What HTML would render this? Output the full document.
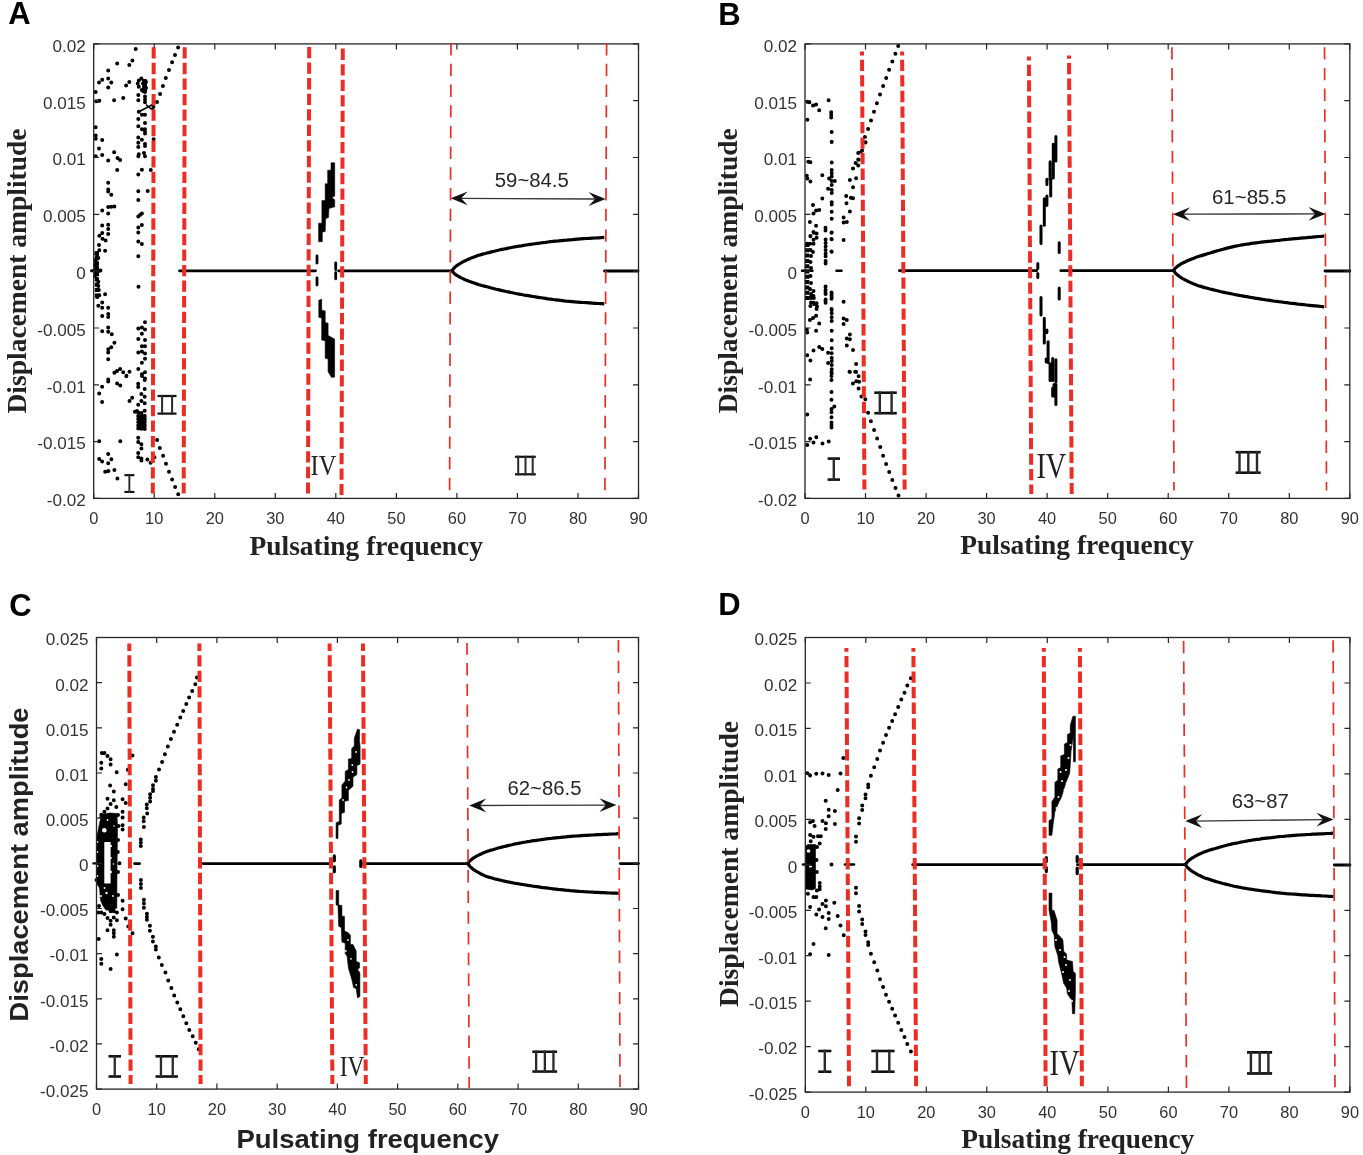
<!DOCTYPE html>
<html><head><meta charset="utf-8"><style>
html,body{margin:0;padding:0;background:#fff;}
svg{display:block;filter:blur(0.45px);}
.ax{stroke:#262626;stroke-width:1.2;fill:none;}
.box{stroke:#262626;stroke-width:1.3;fill:none;}
.dt{fill:#000;}
.plab{font-family:"Liberation Sans",sans-serif;font-weight:bold;font-size:31px;fill:#000;}
.xt{font-family:"Liberation Sans",sans-serif;font-size:16.4px;fill:#333;text-anchor:middle;}
.yt{font-family:"Liberation Sans",sans-serif;font-size:17.1px;fill:#333;text-anchor:end;}
.ann{font-family:"Liberation Sans",sans-serif;fill:#262626;}
.iv{font-family:"Liberation Serif",serif;fill:#222;}
.lbs{font-family:"Liberation Serif",serif;font-weight:bold;fill:#222;}
.lbn{font-family:"Liberation Sans",sans-serif;font-weight:bold;fill:#222;}
</style></head><body>
<svg width="1363" height="1155" viewBox="0 0 1363 1155">
<path class="dt" d="M133.7 49.1a2.0 2.0 0 1 0 4 0a2.0 2.0 0 1 0 -4 0M115.2 63.4a2.0 2.0 0 1 0 4 0a2.0 2.0 0 1 0 -4 0M130.4 60.5a2.0 2.0 0 1 0 4 0a2.0 2.0 0 1 0 -4 0M127.3 64.9a2.0 2.0 0 1 0 4 0a2.0 2.0 0 1 0 -4 0M106.2 70.4a2.0 2.0 0 1 0 4 0a2.0 2.0 0 1 0 -4 0M100.2 79.8a2.0 2.0 0 1 0 4 0a2.0 2.0 0 1 0 -4 0M97 82.6a2.0 2.0 0 1 0 4 0a2.0 2.0 0 1 0 -4 0M106.2 78.4a2.0 2.0 0 1 0 4 0a2.0 2.0 0 1 0 -4 0M109.3 82.6a2.0 2.0 0 1 0 4 0a2.0 2.0 0 1 0 -4 0M106.2 87.6a2.0 2.0 0 1 0 4 0a2.0 2.0 0 1 0 -4 0M127.3 82.1a2.0 2.0 0 1 0 4 0a2.0 2.0 0 1 0 -4 0M124.1 85.4a2.0 2.0 0 1 0 4 0a2.0 2.0 0 1 0 -4 0M93.7 91.9a2.0 2.0 0 1 0 4 0a2.0 2.0 0 1 0 -4 0M94.2 101.3a2.0 2.0 0 1 0 4 0a2.0 2.0 0 1 0 -4 0M97.3 100.8a2.0 2.0 0 1 0 4 0a2.0 2.0 0 1 0 -4 0M112.1 100.2a2.0 2.0 0 1 0 4 0a2.0 2.0 0 1 0 -4 0M121.2 98a2.0 2.0 0 1 0 4 0a2.0 2.0 0 1 0 -4 0M139.4 78.4a2.0 2.0 0 1 0 4 0a2.0 2.0 0 1 0 -4 0M136.8 80.5a2.0 2.0 0 1 0 4 0a2.0 2.0 0 1 0 -4 0M136.8 86.7a2.0 2.0 0 1 0 4 0a2.0 2.0 0 1 0 -4 0M141 83.6a2.0 2.0 0 1 0 4 0a2.0 2.0 0 1 0 -4 0M143 85.7a2.0 2.0 0 1 0 4 0a2.0 2.0 0 1 0 -4 0M143 89.9a2.0 2.0 0 1 0 4 0a2.0 2.0 0 1 0 -4 0M139.9 89.9a2.0 2.0 0 1 0 4 0a2.0 2.0 0 1 0 -4 0M135.8 83.6a2.0 2.0 0 1 0 4 0a2.0 2.0 0 1 0 -4 0M142 81a2.0 2.0 0 1 0 4 0a2.0 2.0 0 1 0 -4 0M144 82a2.0 2.0 0 1 0 4 0a2.0 2.0 0 1 0 -4 0M142 87a2.0 2.0 0 1 0 4 0a2.0 2.0 0 1 0 -4 0M144 88a2.0 2.0 0 1 0 4 0a2.0 2.0 0 1 0 -4 0M141 91a2.0 2.0 0 1 0 4 0a2.0 2.0 0 1 0 -4 0M143 92a2.0 2.0 0 1 0 4 0a2.0 2.0 0 1 0 -4 0M136.3 95.1a2.0 2.0 0 1 0 4 0a2.0 2.0 0 1 0 -4 0M136.3 100.2a2.0 2.0 0 1 0 4 0a2.0 2.0 0 1 0 -4 0M143 96.6a2.0 2.0 0 1 0 4 0a2.0 2.0 0 1 0 -4 0M143 102.3a2.0 2.0 0 1 0 4 0a2.0 2.0 0 1 0 -4 0M143 99.5a2.0 2.0 0 1 0 4 0a2.0 2.0 0 1 0 -4 0M136.8 111.7a2.0 2.0 0 1 0 4 0a2.0 2.0 0 1 0 -4 0M151.4 107a2.0 2.0 0 1 0 4 0a2.0 2.0 0 1 0 -4 0M155 102a2.0 2.0 0 1 0 4 0a2.0 2.0 0 1 0 -4 0M139.9 114.8a2.0 2.0 0 1 0 4 0a2.0 2.0 0 1 0 -4 0M136.3 119a2.0 2.0 0 1 0 4 0a2.0 2.0 0 1 0 -4 0M143 114.8a2.0 2.0 0 1 0 4 0a2.0 2.0 0 1 0 -4 0M143 123.1a2.0 2.0 0 1 0 4 0a2.0 2.0 0 1 0 -4 0M136.3 126.2a2.0 2.0 0 1 0 4 0a2.0 2.0 0 1 0 -4 0M139.9 129.3a2.0 2.0 0 1 0 4 0a2.0 2.0 0 1 0 -4 0M143 129.3a2.0 2.0 0 1 0 4 0a2.0 2.0 0 1 0 -4 0M143 133.5a2.0 2.0 0 1 0 4 0a2.0 2.0 0 1 0 -4 0M143 131.5a2.0 2.0 0 1 0 4 0a2.0 2.0 0 1 0 -4 0M136.3 137.6a2.0 2.0 0 1 0 4 0a2.0 2.0 0 1 0 -4 0M139.9 139.7a2.0 2.0 0 1 0 4 0a2.0 2.0 0 1 0 -4 0M136.3 142.8a2.0 2.0 0 1 0 4 0a2.0 2.0 0 1 0 -4 0M136.3 147a2.0 2.0 0 1 0 4 0a2.0 2.0 0 1 0 -4 0M143 143.9a2.0 2.0 0 1 0 4 0a2.0 2.0 0 1 0 -4 0M143 146a2.0 2.0 0 1 0 4 0a2.0 2.0 0 1 0 -4 0M151.6 139.2a2.0 2.0 0 1 0 4 0a2.0 2.0 0 1 0 -4 0M93.7 127.3a2.0 2.0 0 1 0 4 0a2.0 2.0 0 1 0 -4 0M93.7 135.6a2.0 2.0 0 1 0 4 0a2.0 2.0 0 1 0 -4 0M93.7 138.7a2.0 2.0 0 1 0 4 0a2.0 2.0 0 1 0 -4 0M100.2 139.9a2.0 2.0 0 1 0 4 0a2.0 2.0 0 1 0 -4 0M97 148.5a2.0 2.0 0 1 0 4 0a2.0 2.0 0 1 0 -4 0M112.1 152.2a2.0 2.0 0 1 0 4 0a2.0 2.0 0 1 0 -4 0M100.2 155.1a2.0 2.0 0 1 0 4 0a2.0 2.0 0 1 0 -4 0M93.7 156.3a2.0 2.0 0 1 0 4 0a2.0 2.0 0 1 0 -4 0M176.1 47.5a2.0 2.0 0 1 0 4 0a2.0 2.0 0 1 0 -4 0M173 54.9a2.0 2.0 0 1 0 4 0a2.0 2.0 0 1 0 -4 0M170.1 62.3a2.0 2.0 0 1 0 4 0a2.0 2.0 0 1 0 -4 0M167 70.1a2.0 2.0 0 1 0 4 0a2.0 2.0 0 1 0 -4 0M163.8 78.1a2.0 2.0 0 1 0 4 0a2.0 2.0 0 1 0 -4 0M160.9 85.9a2.0 2.0 0 1 0 4 0a2.0 2.0 0 1 0 -4 0M158.1 94a2.0 2.0 0 1 0 4 0a2.0 2.0 0 1 0 -4 0M100.2 154.9a2.0 2.0 0 1 0 4 0a2.0 2.0 0 1 0 -4 0M112.2 152.3a2.0 2.0 0 1 0 4 0a2.0 2.0 0 1 0 -4 0M106.2 160.4a2.0 2.0 0 1 0 4 0a2.0 2.0 0 1 0 -4 0M115.5 158.1a2.0 2.0 0 1 0 4 0a2.0 2.0 0 1 0 -4 0M118.1 159.9a2.0 2.0 0 1 0 4 0a2.0 2.0 0 1 0 -4 0M115.2 170a2.0 2.0 0 1 0 4 0a2.0 2.0 0 1 0 -4 0M136.3 156.2a2.0 2.0 0 1 0 4 0a2.0 2.0 0 1 0 -4 0M136.8 154.2a2.0 2.0 0 1 0 4 0a2.0 2.0 0 1 0 -4 0M142 153.1a2.0 2.0 0 1 0 4 0a2.0 2.0 0 1 0 -4 0M143 156.2a2.0 2.0 0 1 0 4 0a2.0 2.0 0 1 0 -4 0M139.9 169.7a2.0 2.0 0 1 0 4 0a2.0 2.0 0 1 0 -4 0M136.3 174.4a2.0 2.0 0 1 0 4 0a2.0 2.0 0 1 0 -4 0M148.8 170a2.0 2.0 0 1 0 4 0a2.0 2.0 0 1 0 -4 0M106.2 182.7a2.0 2.0 0 1 0 4 0a2.0 2.0 0 1 0 -4 0M106.2 189.5a2.0 2.0 0 1 0 4 0a2.0 2.0 0 1 0 -4 0M106.2 191.5a2.0 2.0 0 1 0 4 0a2.0 2.0 0 1 0 -4 0M109.3 194.7a2.0 2.0 0 1 0 4 0a2.0 2.0 0 1 0 -4 0M136.3 191.2a2.0 2.0 0 1 0 4 0a2.0 2.0 0 1 0 -4 0M145.7 191a2.0 2.0 0 1 0 4 0a2.0 2.0 0 1 0 -4 0M136.3 199.9a2.0 2.0 0 1 0 4 0a2.0 2.0 0 1 0 -4 0M106.2 207.1a2.0 2.0 0 1 0 4 0a2.0 2.0 0 1 0 -4 0M109.3 206.8a2.0 2.0 0 1 0 4 0a2.0 2.0 0 1 0 -4 0M112.4 206.6a2.0 2.0 0 1 0 4 0a2.0 2.0 0 1 0 -4 0M100.2 210.5a2.0 2.0 0 1 0 4 0a2.0 2.0 0 1 0 -4 0M106.2 213.4a2.0 2.0 0 1 0 4 0a2.0 2.0 0 1 0 -4 0M139.9 213.4a2.0 2.0 0 1 0 4 0a2.0 2.0 0 1 0 -4 0M136.3 216.5a2.0 2.0 0 1 0 4 0a2.0 2.0 0 1 0 -4 0M138 215a2.0 2.0 0 1 0 4 0a2.0 2.0 0 1 0 -4 0M100.2 225.6a2.0 2.0 0 1 0 4 0a2.0 2.0 0 1 0 -4 0M106.2 224.8a2.0 2.0 0 1 0 4 0a2.0 2.0 0 1 0 -4 0M106.2 228.9a2.0 2.0 0 1 0 4 0a2.0 2.0 0 1 0 -4 0M139.9 225a2.0 2.0 0 1 0 4 0a2.0 2.0 0 1 0 -4 0M136.3 227.4a2.0 2.0 0 1 0 4 0a2.0 2.0 0 1 0 -4 0M100.2 233.1a2.0 2.0 0 1 0 4 0a2.0 2.0 0 1 0 -4 0M97.3 235.7a2.0 2.0 0 1 0 4 0a2.0 2.0 0 1 0 -4 0M106.2 233.9a2.0 2.0 0 1 0 4 0a2.0 2.0 0 1 0 -4 0M100.5 238.8a2.0 2.0 0 1 0 4 0a2.0 2.0 0 1 0 -4 0M103.6 240.4a2.0 2.0 0 1 0 4 0a2.0 2.0 0 1 0 -4 0M136.3 232.6a2.0 2.0 0 1 0 4 0a2.0 2.0 0 1 0 -4 0M136.3 241.4a2.0 2.0 0 1 0 4 0a2.0 2.0 0 1 0 -4 0M139.9 244a2.0 2.0 0 1 0 4 0a2.0 2.0 0 1 0 -4 0M97 245a2.0 2.0 0 1 0 4 0a2.0 2.0 0 1 0 -4 0M103.1 250.8a2.0 2.0 0 1 0 4 0a2.0 2.0 0 1 0 -4 0M97.3 250.2a2.0 2.0 0 1 0 4 0a2.0 2.0 0 1 0 -4 0M94.2 253.9a2.0 2.0 0 1 0 4 0a2.0 2.0 0 1 0 -4 0M96.3 258a2.0 2.0 0 1 0 4 0a2.0 2.0 0 1 0 -4 0M93.2 260.1a2.0 2.0 0 1 0 4 0a2.0 2.0 0 1 0 -4 0M95 256a2.0 2.0 0 1 0 4 0a2.0 2.0 0 1 0 -4 0M94 262a2.0 2.0 0 1 0 4 0a2.0 2.0 0 1 0 -4 0M93 265a2.0 2.0 0 1 0 4 0a2.0 2.0 0 1 0 -4 0M95 267a2.0 2.0 0 1 0 4 0a2.0 2.0 0 1 0 -4 0M136.3 256.2a2.0 2.0 0 1 0 4 0a2.0 2.0 0 1 0 -4 0M92.5 270.5a2.0 2.0 0 1 0 4 0a2.0 2.0 0 1 0 -4 0M95.5 270.5a2.0 2.0 0 1 0 4 0a2.0 2.0 0 1 0 -4 0M98.5 270.5a2.0 2.0 0 1 0 4 0a2.0 2.0 0 1 0 -4 0M94 273a2.0 2.0 0 1 0 4 0a2.0 2.0 0 1 0 -4 0M94 268a2.0 2.0 0 1 0 4 0a2.0 2.0 0 1 0 -4 0M93 276a2.0 2.0 0 1 0 4 0a2.0 2.0 0 1 0 -4 0M95 279a2.0 2.0 0 1 0 4 0a2.0 2.0 0 1 0 -4 0M96.3 281.8a2.0 2.0 0 1 0 4 0a2.0 2.0 0 1 0 -4 0M96.3 286a2.0 2.0 0 1 0 4 0a2.0 2.0 0 1 0 -4 0M96.8 290.1a2.0 2.0 0 1 0 4 0a2.0 2.0 0 1 0 -4 0M103.1 294.3a2.0 2.0 0 1 0 4 0a2.0 2.0 0 1 0 -4 0M95.3 296.9a2.0 2.0 0 1 0 4 0a2.0 2.0 0 1 0 -4 0M97.3 295.3a2.0 2.0 0 1 0 4 0a2.0 2.0 0 1 0 -4 0M100.2 302.6a2.0 2.0 0 1 0 4 0a2.0 2.0 0 1 0 -4 0M96.3 305.7a2.0 2.0 0 1 0 4 0a2.0 2.0 0 1 0 -4 0M100.2 307.8a2.0 2.0 0 1 0 4 0a2.0 2.0 0 1 0 -4 0M106.2 307.8a2.0 2.0 0 1 0 4 0a2.0 2.0 0 1 0 -4 0M106.2 314a2.0 2.0 0 1 0 4 0a2.0 2.0 0 1 0 -4 0M106.2 317.1a2.0 2.0 0 1 0 4 0a2.0 2.0 0 1 0 -4 0M100.2 316.1a2.0 2.0 0 1 0 4 0a2.0 2.0 0 1 0 -4 0M106.2 327.5a2.0 2.0 0 1 0 4 0a2.0 2.0 0 1 0 -4 0M106.2 331.7a2.0 2.0 0 1 0 4 0a2.0 2.0 0 1 0 -4 0M100.2 331.2a2.0 2.0 0 1 0 4 0a2.0 2.0 0 1 0 -4 0M109.8 334.3a2.0 2.0 0 1 0 4 0a2.0 2.0 0 1 0 -4 0M112.4 342.8a2.0 2.0 0 1 0 4 0a2.0 2.0 0 1 0 -4 0M109.3 347.3a2.0 2.0 0 1 0 4 0a2.0 2.0 0 1 0 -4 0M106.2 349.3a2.0 2.0 0 1 0 4 0a2.0 2.0 0 1 0 -4 0M106.2 352.4a2.0 2.0 0 1 0 4 0a2.0 2.0 0 1 0 -4 0M106.2 359.2a2.0 2.0 0 1 0 4 0a2.0 2.0 0 1 0 -4 0M112.4 372.7a2.0 2.0 0 1 0 4 0a2.0 2.0 0 1 0 -4 0M115 371a2.0 2.0 0 1 0 4 0a2.0 2.0 0 1 0 -4 0M118.1 369.1a2.0 2.0 0 1 0 4 0a2.0 2.0 0 1 0 -4 0M121.2 372.2a2.0 2.0 0 1 0 4 0a2.0 2.0 0 1 0 -4 0M124.4 375.8a2.0 2.0 0 1 0 4 0a2.0 2.0 0 1 0 -4 0M127.5 371.7a2.0 2.0 0 1 0 4 0a2.0 2.0 0 1 0 -4 0M106.2 379.5a2.0 2.0 0 1 0 4 0a2.0 2.0 0 1 0 -4 0M136.5 286.8a2.0 2.0 0 1 0 4 0a2.0 2.0 0 1 0 -4 0M143 322.3a2.0 2.0 0 1 0 4 0a2.0 2.0 0 1 0 -4 0M136.3 328.6a2.0 2.0 0 1 0 4 0a2.0 2.0 0 1 0 -4 0M139.9 327.5a2.0 2.0 0 1 0 4 0a2.0 2.0 0 1 0 -4 0M143 329.6a2.0 2.0 0 1 0 4 0a2.0 2.0 0 1 0 -4 0M136.3 339a2.0 2.0 0 1 0 4 0a2.0 2.0 0 1 0 -4 0M139.9 333.8a2.0 2.0 0 1 0 4 0a2.0 2.0 0 1 0 -4 0M143 340a2.0 2.0 0 1 0 4 0a2.0 2.0 0 1 0 -4 0M143 346.2a2.0 2.0 0 1 0 4 0a2.0 2.0 0 1 0 -4 0M139.9 346.2a2.0 2.0 0 1 0 4 0a2.0 2.0 0 1 0 -4 0M136.3 352.4a2.0 2.0 0 1 0 4 0a2.0 2.0 0 1 0 -4 0M139.9 351.4a2.0 2.0 0 1 0 4 0a2.0 2.0 0 1 0 -4 0M143 353.5a2.0 2.0 0 1 0 4 0a2.0 2.0 0 1 0 -4 0M139.9 362.8a2.0 2.0 0 1 0 4 0a2.0 2.0 0 1 0 -4 0M143 358.7a2.0 2.0 0 1 0 4 0a2.0 2.0 0 1 0 -4 0M136.3 369.1a2.0 2.0 0 1 0 4 0a2.0 2.0 0 1 0 -4 0M139.9 374.3a2.0 2.0 0 1 0 4 0a2.0 2.0 0 1 0 -4 0M143 372.2a2.0 2.0 0 1 0 4 0a2.0 2.0 0 1 0 -4 0M143 378.4a2.0 2.0 0 1 0 4 0a2.0 2.0 0 1 0 -4 0M140 376a2.0 2.0 0 1 0 4 0a2.0 2.0 0 1 0 -4 0M106.2 381.5a2.0 2.0 0 1 0 4 0a2.0 2.0 0 1 0 -4 0M100.1 386.7a2.0 2.0 0 1 0 4 0a2.0 2.0 0 1 0 -4 0M115.1 383.4a2.0 2.0 0 1 0 4 0a2.0 2.0 0 1 0 -4 0M118.3 385.5a2.0 2.0 0 1 0 4 0a2.0 2.0 0 1 0 -4 0M124.3 376.3a2.0 2.0 0 1 0 4 0a2.0 2.0 0 1 0 -4 0M97.2 393.4a2.0 2.0 0 1 0 4 0a2.0 2.0 0 1 0 -4 0M100.1 402.1a2.0 2.0 0 1 0 4 0a2.0 2.0 0 1 0 -4 0M130.2 397.7a2.0 2.0 0 1 0 4 0a2.0 2.0 0 1 0 -4 0M127.5 401a2.0 2.0 0 1 0 4 0a2.0 2.0 0 1 0 -4 0M142.7 379.9a2.0 2.0 0 1 0 4 0a2.0 2.0 0 1 0 -4 0M136.2 383.7a2.0 2.0 0 1 0 4 0a2.0 2.0 0 1 0 -4 0M136.2 386.9a2.0 2.0 0 1 0 4 0a2.0 2.0 0 1 0 -4 0M142.7 389.1a2.0 2.0 0 1 0 4 0a2.0 2.0 0 1 0 -4 0M139.4 394a2.0 2.0 0 1 0 4 0a2.0 2.0 0 1 0 -4 0M142.7 396.7a2.0 2.0 0 1 0 4 0a2.0 2.0 0 1 0 -4 0M139.4 401a2.0 2.0 0 1 0 4 0a2.0 2.0 0 1 0 -4 0M136.2 404.8a2.0 2.0 0 1 0 4 0a2.0 2.0 0 1 0 -4 0M142.7 403.2a2.0 2.0 0 1 0 4 0a2.0 2.0 0 1 0 -4 0M132.9 411.8a2.0 2.0 0 1 0 4 0a2.0 2.0 0 1 0 -4 0M136.2 412.4a2.0 2.0 0 1 0 4 0a2.0 2.0 0 1 0 -4 0M139.4 412.9a2.0 2.0 0 1 0 4 0a2.0 2.0 0 1 0 -4 0M142.7 410.7a2.0 2.0 0 1 0 4 0a2.0 2.0 0 1 0 -4 0M135 411a2.0 2.0 0 1 0 4 0a2.0 2.0 0 1 0 -4 0M136.2 416a2.0 2.0 0 1 0 4 0a2.0 2.0 0 1 0 -4 0M139.4 416a2.0 2.0 0 1 0 4 0a2.0 2.0 0 1 0 -4 0M142.7 416a2.0 2.0 0 1 0 4 0a2.0 2.0 0 1 0 -4 0M136.2 419a2.0 2.0 0 1 0 4 0a2.0 2.0 0 1 0 -4 0M139.4 419.5a2.0 2.0 0 1 0 4 0a2.0 2.0 0 1 0 -4 0M142.7 419a2.0 2.0 0 1 0 4 0a2.0 2.0 0 1 0 -4 0M136.2 422a2.0 2.0 0 1 0 4 0a2.0 2.0 0 1 0 -4 0M142.7 422a2.0 2.0 0 1 0 4 0a2.0 2.0 0 1 0 -4 0M139.4 423a2.0 2.0 0 1 0 4 0a2.0 2.0 0 1 0 -4 0M136.2 425.5a2.0 2.0 0 1 0 4 0a2.0 2.0 0 1 0 -4 0M139.4 426a2.0 2.0 0 1 0 4 0a2.0 2.0 0 1 0 -4 0M142.7 425.5a2.0 2.0 0 1 0 4 0a2.0 2.0 0 1 0 -4 0M136.2 428.5a2.0 2.0 0 1 0 4 0a2.0 2.0 0 1 0 -4 0M139.4 428.8a2.0 2.0 0 1 0 4 0a2.0 2.0 0 1 0 -4 0M142.7 429a2.0 2.0 0 1 0 4 0a2.0 2.0 0 1 0 -4 0M137.5 417.5a2.0 2.0 0 1 0 4 0a2.0 2.0 0 1 0 -4 0M141 421a2.0 2.0 0 1 0 4 0a2.0 2.0 0 1 0 -4 0M141 427a2.0 2.0 0 1 0 4 0a2.0 2.0 0 1 0 -4 0M136.2 437.8a2.0 2.0 0 1 0 4 0a2.0 2.0 0 1 0 -4 0M136.2 442.1a2.0 2.0 0 1 0 4 0a2.0 2.0 0 1 0 -4 0M139.4 444.3a2.0 2.0 0 1 0 4 0a2.0 2.0 0 1 0 -4 0M139.4 448.6a2.0 2.0 0 1 0 4 0a2.0 2.0 0 1 0 -4 0M136.2 453a2.0 2.0 0 1 0 4 0a2.0 2.0 0 1 0 -4 0M136.2 457.3a2.0 2.0 0 1 0 4 0a2.0 2.0 0 1 0 -4 0M139.4 458.4a2.0 2.0 0 1 0 4 0a2.0 2.0 0 1 0 -4 0M139.4 460.5a2.0 2.0 0 1 0 4 0a2.0 2.0 0 1 0 -4 0M145.4 459.5a2.0 2.0 0 1 0 4 0a2.0 2.0 0 1 0 -4 0M148.6 462.7a2.0 2.0 0 1 0 4 0a2.0 2.0 0 1 0 -4 0M152.4 457.3a2.0 2.0 0 1 0 4 0a2.0 2.0 0 1 0 -4 0M97.2 441.3a2.0 2.0 0 1 0 4 0a2.0 2.0 0 1 0 -4 0M118.3 441.3a2.0 2.0 0 1 0 4 0a2.0 2.0 0 1 0 -4 0M106.2 454a2.0 2.0 0 1 0 4 0a2.0 2.0 0 1 0 -4 0M97.2 458.9a2.0 2.0 0 1 0 4 0a2.0 2.0 0 1 0 -4 0M100.1 461.6a2.0 2.0 0 1 0 4 0a2.0 2.0 0 1 0 -4 0M109.4 459.2a2.0 2.0 0 1 0 4 0a2.0 2.0 0 1 0 -4 0M106.2 463.2a2.0 2.0 0 1 0 4 0a2.0 2.0 0 1 0 -4 0M103.2 471.7a2.0 2.0 0 1 0 4 0a2.0 2.0 0 1 0 -4 0M106.4 471.1a2.0 2.0 0 1 0 4 0a2.0 2.0 0 1 0 -4 0M112.4 470.1a2.0 2.0 0 1 0 4 0a2.0 2.0 0 1 0 -4 0M115.4 478.6a2.0 2.0 0 1 0 4 0a2.0 2.0 0 1 0 -4 0M155.1 440a2.0 2.0 0 1 0 4 0a2.0 2.0 0 1 0 -4 0M157.8 447.9a2.0 2.0 0 1 0 4 0a2.0 2.0 0 1 0 -4 0M161.1 455.7a2.0 2.0 0 1 0 4 0a2.0 2.0 0 1 0 -4 0M164 463.8a2.0 2.0 0 1 0 4 0a2.0 2.0 0 1 0 -4 0M167 471.7a2.0 2.0 0 1 0 4 0a2.0 2.0 0 1 0 -4 0M170.1 479.5a2.0 2.0 0 1 0 4 0a2.0 2.0 0 1 0 -4 0M173.1 487.1a2.0 2.0 0 1 0 4 0a2.0 2.0 0 1 0 -4 0M176.2 494.3a2.0 2.0 0 1 0 4 0a2.0 2.0 0 1 0 -4 0"/>
<path d="M137.5 112.5L147 107.5L153.5 104M146 104.5L150.5 108.5L154 110" stroke="#000" stroke-width="1.6" fill="none"/>
<rect x="137.2" y="414.5" width="9" height="15.5" fill="#000"/>
<rect x="142.6" y="79" width="4.2" height="13" fill="#000"/>
<path fill="#000" stroke="#000" stroke-width="0.6" stroke-linejoin="round" d="M318.6 241.7L318.6 223.2L321.9 223.2L321.9 200.6L325.2 200.6L325.2 183.8L327.7 183.8L327.7 170.2L331 170.2L331 162.8L334.7 162.8L334.7 196.1L331.8 197.7L334.7 199.8L334.7 206.8L328.9 208.4L328.5 217.4L325.6 218.7L325.2 231.4L322.3 232.2L322.3 241.7Z"/>
<path fill="#000" stroke="#000" stroke-width="0.6" stroke-linejoin="round" d="M318.8 300.3L321.7 299.2L321.7 310.3L325.2 310.9L325.2 322.6L328.1 323.2L328.1 335.5L334.6 339L334.6 377L331.7 377.6L328.1 371.7L328.1 358.9L325.2 358.3L325.2 340.7L321.7 340.1L321.7 317.9L318.8 317.3Z"/>
<path d="M317 256V263M317 277.8V285M335.7 263V269.5M335.7 272.6V278.8" stroke="#000" stroke-width="2.8" stroke-linecap="round" fill="none"/>
<path d="M179.5 270.8H315.5" stroke="#000" stroke-width="2.8" fill="none" stroke-linecap="round"/>
<path d="M338.5 270.8H452" stroke="#000" stroke-width="2.8" fill="none" stroke-linecap="round"/>
<path d="M604.5 271H638" stroke="#000" stroke-width="2.8" fill="none" stroke-linecap="round"/>
<path d="M96.9 251V299" stroke="#000" stroke-width="4.2" stroke-dasharray="4 1.3" fill="none"/>
<path d="M91.5 270.7H100.5" stroke="#000" stroke-width="3.0" fill="none" stroke-linecap="round"/>
<path d="M451.8 270.8L451.9 270.6L452.2 270.3L452.6 269.9L453.1 269.3L453.6 268.6L454.2 267.9L454.9 267.2L455.6 266.6L456.4 265.9L457.3 265.3L458.2 264.7L459.1 264.1L460.1 263.5L461.2 262.8L462.3 262.2L463.4 261.6L464.6 261.0L465.8 260.5L467.1 259.9L468.4 259.3L469.7 258.7L471.1 258.1L472.6 257.6L474.0 257.0L475.5 256.4L477.1 255.8L478.6 255.3L480.2 254.9L481.9 254.4L483.5 253.9L485.3 253.5L487.0 253.0L488.8 252.6L490.6 252.1L492.4 251.6L494.3 251.2L496.2 250.7L498.1 250.3L500.1 249.8L502.1 249.4L504.1 249.0L506.2 248.6L508.3 248.1L510.4 247.7L512.5 247.3L514.7 246.9L516.9 246.5L519.1 246.1L521.4 245.8L523.7 245.4L526.0 245.0L528.3 244.7L530.7 244.3L533.1 244.0L535.5 243.7L538.0 243.3L540.5 243.0L543.0 242.7L545.5 242.4L548.0 242.0L550.6 241.7L553.2 241.4L555.9 241.1L558.5 240.9L561.2 240.6L563.9 240.3L566.6 240.1L569.4 239.8L572.2 239.6L575.0 239.3L577.8 239.1L580.6 238.9L583.5 238.7L586.4 238.5L589.3 238.3L592.3 238.1L595.3 238.0L598.2 237.8L601.3 237.6L604.3 237.4" stroke="#000" stroke-width="3.2" fill="none" stroke-linejoin="round"/>
<path d="M451.8 270.8L451.9 270.9L452.2 271.2L452.6 271.6L453.1 272.1L453.6 272.7L454.2 273.4L454.9 274.0L455.6 274.6L456.4 275.1L457.3 275.7L458.2 276.2L459.1 276.8L460.1 277.3L461.2 277.9L462.3 278.4L463.4 278.9L464.6 279.5L465.8 280.0L467.1 280.5L468.4 281.0L469.7 281.6L471.1 282.1L472.6 282.6L474.0 283.1L475.5 283.6L477.1 284.1L478.6 284.6L480.2 285.0L481.9 285.5L483.5 285.9L485.3 286.4L487.0 286.8L488.8 287.3L490.6 287.8L492.4 288.2L494.3 288.7L496.2 289.2L498.1 289.6L500.1 290.1L502.1 290.6L504.1 291.0L506.2 291.5L508.3 291.9L510.4 292.4L512.5 292.8L514.7 293.3L516.9 293.7L519.1 294.1L521.4 294.5L523.7 295.0L526.0 295.3L528.3 295.7L530.7 296.1L533.1 296.5L535.5 296.9L538.0 297.3L540.5 297.7L543.0 298.0L545.5 298.4L548.0 298.8L550.6 299.1L553.2 299.5L555.9 299.8L558.5 300.1L561.2 300.4L563.9 300.8L566.6 301.1L569.4 301.3L572.2 301.6L575.0 301.9L577.8 302.1L580.6 302.3L583.5 302.5L586.4 302.7L589.3 302.9L592.3 303.1L595.3 303.3L598.2 303.5L601.3 303.7L604.3 303.9" stroke="#000" stroke-width="3.2" fill="none" stroke-linejoin="round"/>
<path d="M458.7 198.3L597.6 199" stroke="#333" stroke-width="1.3" fill="none"/>
<path fill="#111" d="M450.7 198.3L467.7 191.4L461.2 198.3L467.7 205.2Z"/>
<path fill="#111" d="M605.6 199L588.6 192.1L595.1 199L588.6 205.9Z"/>
<text x="494.8" y="186.6" class="ann" font-size="20" textLength="74" lengthAdjust="spacingAndGlyphs">59~84.5</text>
<rect x="124.4" y="474.1" width="10" height="2.1" fill="#111"/>
<rect x="124.4" y="490.9" width="10" height="2.1" fill="#111"/>
<rect x="128.4" y="474.1" width="1.9" height="18.9" fill="#2a2a2a"/>
<rect x="157.5" y="394.9" width="19" height="2.2" fill="#111"/>
<rect x="157.5" y="412.5" width="19" height="2.2" fill="#111"/>
<rect x="161.1" y="394.9" width="2" height="19.8" fill="#2a2a2a"/>
<rect x="171.1" y="394.9" width="2" height="19.8" fill="#2a2a2a"/>
<rect x="515" y="455.7" width="20.8" height="2.2" fill="#111"/>
<rect x="515" y="473.2" width="20.8" height="2.2" fill="#111"/>
<rect x="517.2" y="455.7" width="2" height="19.7" fill="#2a2a2a"/>
<rect x="524.5" y="455.7" width="2" height="19.7" fill="#2a2a2a"/>
<rect x="531.7" y="455.7" width="2" height="19.7" fill="#2a2a2a"/>
<text x="310.5" y="475.2" class="iv" font-size="29.6" textLength="25.8" lengthAdjust="spacingAndGlyphs">IV</text>
<text x="249.5" y="554.5" class="lbs" font-size="27.4" textLength="233.5" lengthAdjust="spacingAndGlyphs">Pulsating frequency</text>
<text transform="translate(26 413.5) rotate(-90)" class="lbs" font-size="27.4" textLength="285" lengthAdjust="spacingAndGlyphs">Displacement amplitude</text>
<text x="8.3" y="23.9" class="plab">A</text>
<text x="93.7" y="523.9" class="xt">0</text>
<text x="154.2" y="523.9" class="xt">10</text>
<text x="214.8" y="523.9" class="xt">20</text>
<text x="275.3" y="523.9" class="xt">30</text>
<text x="335.8" y="523.9" class="xt">40</text>
<text x="396.4" y="523.9" class="xt">50</text>
<text x="456.9" y="523.9" class="xt">60</text>
<text x="517.4" y="523.9" class="xt">70</text>
<text x="578.0" y="523.9" class="xt">80</text>
<text x="638.5" y="523.9" class="xt">90</text>
<text x="85.7" y="51.7" class="yt">0.02</text>
<text x="85.7" y="108.5" class="yt">0.015</text>
<text x="85.7" y="165.3" class="yt">0.01</text>
<text x="85.7" y="222.1" class="yt">0.005</text>
<text x="85.7" y="278.9" class="yt">0</text>
<text x="85.7" y="335.8" class="yt">-0.005</text>
<text x="85.7" y="392.6" class="yt">-0.01</text>
<text x="85.7" y="449.4" class="yt">-0.015</text>
<text x="85.7" y="506.2" class="yt">-0.02</text>
<path class="ax" d="M93.7 498.4V492.9M93.7 43.9V49.4M154.2 498.4V492.9M154.2 43.9V49.4M214.8 498.4V492.9M214.8 43.9V49.4M275.3 498.4V492.9M275.3 43.9V49.4M335.8 498.4V492.9M335.8 43.9V49.4M396.4 498.4V492.9M396.4 43.9V49.4M456.9 498.4V492.9M456.9 43.9V49.4M517.4 498.4V492.9M517.4 43.9V49.4M578.0 498.4V492.9M578.0 43.9V49.4M638.5 498.4V492.9M638.5 43.9V49.4M93.7 43.9H99.2M638.5 43.9H633.0M93.7 100.7H99.2M638.5 100.7H633.0M93.7 157.5H99.2M638.5 157.5H633.0M93.7 214.3H99.2M638.5 214.3H633.0M93.7 271.1H99.2M638.5 271.1H633.0M93.7 328.0H99.2M638.5 328.0H633.0M93.7 384.8H99.2M638.5 384.8H633.0M93.7 441.6H99.2M638.5 441.6H633.0M93.7 498.4H99.2M638.5 498.4H633.0"/>
<rect x="93.7" y="43.9" width="544.8" height="454.5" class="box"/>
<path class="dt" d="M896.2 45.9a2.0 2.0 0 1 0 4 0a2.0 2.0 0 1 0 -4 0M893.4 53.8a2.0 2.0 0 1 0 4 0a2.0 2.0 0 1 0 -4 0M890.3 61.6a2.0 2.0 0 1 0 4 0a2.0 2.0 0 1 0 -4 0M887.1 69.8a2.0 2.0 0 1 0 4 0a2.0 2.0 0 1 0 -4 0M884.2 77.9a2.0 2.0 0 1 0 4 0a2.0 2.0 0 1 0 -4 0M881.1 86a2.0 2.0 0 1 0 4 0a2.0 2.0 0 1 0 -4 0M878 94.5a2.0 2.0 0 1 0 4 0a2.0 2.0 0 1 0 -4 0M874.9 103.2a2.0 2.0 0 1 0 4 0a2.0 2.0 0 1 0 -4 0M872 111.7a2.0 2.0 0 1 0 4 0a2.0 2.0 0 1 0 -4 0M869 120.5a2.0 2.0 0 1 0 4 0a2.0 2.0 0 1 0 -4 0M866.1 129a2.0 2.0 0 1 0 4 0a2.0 2.0 0 1 0 -4 0M862.9 137.1a2.0 2.0 0 1 0 4 0a2.0 2.0 0 1 0 -4 0M863.5 142.6a2.0 2.0 0 1 0 4 0a2.0 2.0 0 1 0 -4 0M860.1 150.6a2.0 2.0 0 1 0 4 0a2.0 2.0 0 1 0 -4 0M856.7 152.7a2.0 2.0 0 1 0 4 0a2.0 2.0 0 1 0 -4 0M856.2 159.5a2.0 2.0 0 1 0 4 0a2.0 2.0 0 1 0 -4 0M805.3 101.8a2.0 2.0 0 1 0 4 0a2.0 2.0 0 1 0 -4 0M807.4 102.3a2.0 2.0 0 1 0 4 0a2.0 2.0 0 1 0 -4 0M811 105.5a2.0 2.0 0 1 0 4 0a2.0 2.0 0 1 0 -4 0M814.1 104.4a2.0 2.0 0 1 0 4 0a2.0 2.0 0 1 0 -4 0M817.2 110.3a2.0 2.0 0 1 0 4 0a2.0 2.0 0 1 0 -4 0M826.6 100.3a2.0 2.0 0 1 0 4 0a2.0 2.0 0 1 0 -4 0M829.2 112.2a2.0 2.0 0 1 0 4 0a2.0 2.0 0 1 0 -4 0M829.2 114.8a2.0 2.0 0 1 0 4 0a2.0 2.0 0 1 0 -4 0M829.2 117.4a2.0 2.0 0 1 0 4 0a2.0 2.0 0 1 0 -4 0M805.3 119.8a2.0 2.0 0 1 0 4 0a2.0 2.0 0 1 0 -4 0M829.7 132a2.0 2.0 0 1 0 4 0a2.0 2.0 0 1 0 -4 0M829.7 141.8a2.0 2.0 0 1 0 4 0a2.0 2.0 0 1 0 -4 0M829.7 141.9a2.0 2.0 0 1 0 4 0a2.0 2.0 0 1 0 -4 0M863.5 142.3a2.0 2.0 0 1 0 4 0a2.0 2.0 0 1 0 -4 0M859.8 150.9a2.0 2.0 0 1 0 4 0a2.0 2.0 0 1 0 -4 0M856.2 153a2.0 2.0 0 1 0 4 0a2.0 2.0 0 1 0 -4 0M856.7 159.7a2.0 2.0 0 1 0 4 0a2.0 2.0 0 1 0 -4 0M853.6 162.9a2.0 2.0 0 1 0 4 0a2.0 2.0 0 1 0 -4 0M856.2 165.5a2.0 2.0 0 1 0 4 0a2.0 2.0 0 1 0 -4 0M851 168.6a2.0 2.0 0 1 0 4 0a2.0 2.0 0 1 0 -4 0M806.3 161.8a2.0 2.0 0 1 0 4 0a2.0 2.0 0 1 0 -4 0M808.4 162.3a2.0 2.0 0 1 0 4 0a2.0 2.0 0 1 0 -4 0M829.7 162.6a2.0 2.0 0 1 0 4 0a2.0 2.0 0 1 0 -4 0M804.8 175.8a2.0 2.0 0 1 0 4 0a2.0 2.0 0 1 0 -4 0M805.3 178.4a2.0 2.0 0 1 0 4 0a2.0 2.0 0 1 0 -4 0M808.4 181.4a2.0 2.0 0 1 0 4 0a2.0 2.0 0 1 0 -4 0M820.3 175.3a2.0 2.0 0 1 0 4 0a2.0 2.0 0 1 0 -4 0M829.7 170.1a2.0 2.0 0 1 0 4 0a2.0 2.0 0 1 0 -4 0M829.7 173.2a2.0 2.0 0 1 0 4 0a2.0 2.0 0 1 0 -4 0M829.7 176.4a2.0 2.0 0 1 0 4 0a2.0 2.0 0 1 0 -4 0M827.1 178.4a2.0 2.0 0 1 0 4 0a2.0 2.0 0 1 0 -4 0M829.7 181a2.0 2.0 0 1 0 4 0a2.0 2.0 0 1 0 -4 0M832.8 181a2.0 2.0 0 1 0 4 0a2.0 2.0 0 1 0 -4 0M826.1 188.8a2.0 2.0 0 1 0 4 0a2.0 2.0 0 1 0 -4 0M829.7 189.9a2.0 2.0 0 1 0 4 0a2.0 2.0 0 1 0 -4 0M829.7 193a2.0 2.0 0 1 0 4 0a2.0 2.0 0 1 0 -4 0M829.7 185a2.0 2.0 0 1 0 4 0a2.0 2.0 0 1 0 -4 0M847.9 180a2.0 2.0 0 1 0 4 0a2.0 2.0 0 1 0 -4 0M854.1 178.2a2.0 2.0 0 1 0 4 0a2.0 2.0 0 1 0 -4 0M851 187.3a2.0 2.0 0 1 0 4 0a2.0 2.0 0 1 0 -4 0M844.2 196.1a2.0 2.0 0 1 0 4 0a2.0 2.0 0 1 0 -4 0M848.9 197.7a2.0 2.0 0 1 0 4 0a2.0 2.0 0 1 0 -4 0M851 198.2a2.0 2.0 0 1 0 4 0a2.0 2.0 0 1 0 -4 0M820.3 198.4a2.0 2.0 0 1 0 4 0a2.0 2.0 0 1 0 -4 0M829.7 202.3a2.0 2.0 0 1 0 4 0a2.0 2.0 0 1 0 -4 0M829.7 204.4a2.0 2.0 0 1 0 4 0a2.0 2.0 0 1 0 -4 0M844.5 203.2a2.0 2.0 0 1 0 4 0a2.0 2.0 0 1 0 -4 0M811 205.1a2.0 2.0 0 1 0 4 0a2.0 2.0 0 1 0 -4 0M814.1 210.6a2.0 2.0 0 1 0 4 0a2.0 2.0 0 1 0 -4 0M817.2 210.1a2.0 2.0 0 1 0 4 0a2.0 2.0 0 1 0 -4 0M811.5 213.6a2.0 2.0 0 1 0 4 0a2.0 2.0 0 1 0 -4 0M829.7 211.7a2.0 2.0 0 1 0 4 0a2.0 2.0 0 1 0 -4 0M847.9 211.5a2.0 2.0 0 1 0 4 0a2.0 2.0 0 1 0 -4 0M829.7 218.8a2.0 2.0 0 1 0 4 0a2.0 2.0 0 1 0 -4 0M841.6 217.4a2.0 2.0 0 1 0 4 0a2.0 2.0 0 1 0 -4 0M841.6 222.6a2.0 2.0 0 1 0 4 0a2.0 2.0 0 1 0 -4 0M844.8 222.1a2.0 2.0 0 1 0 4 0a2.0 2.0 0 1 0 -4 0M807.9 222.1a2.0 2.0 0 1 0 4 0a2.0 2.0 0 1 0 -4 0M814.1 225.7a2.0 2.0 0 1 0 4 0a2.0 2.0 0 1 0 -4 0M823.5 227.8a2.0 2.0 0 1 0 4 0a2.0 2.0 0 1 0 -4 0M823.5 230.4a2.0 2.0 0 1 0 4 0a2.0 2.0 0 1 0 -4 0M811.5 232a2.0 2.0 0 1 0 4 0a2.0 2.0 0 1 0 -4 0M814.6 233.5a2.0 2.0 0 1 0 4 0a2.0 2.0 0 1 0 -4 0M808.4 236.1a2.0 2.0 0 1 0 4 0a2.0 2.0 0 1 0 -4 0M811.5 239.7a2.0 2.0 0 1 0 4 0a2.0 2.0 0 1 0 -4 0M814.6 237.7a2.0 2.0 0 1 0 4 0a2.0 2.0 0 1 0 -4 0M829.7 232.5a2.0 2.0 0 1 0 4 0a2.0 2.0 0 1 0 -4 0M829.7 239.2a2.0 2.0 0 1 0 4 0a2.0 2.0 0 1 0 -4 0M841.6 239.9a2.0 2.0 0 1 0 4 0a2.0 2.0 0 1 0 -4 0M829.7 251.7a2.0 2.0 0 1 0 4 0a2.0 2.0 0 1 0 -4 0M808.4 236.2a2.0 2.0 0 1 0 4 0a2.0 2.0 0 1 0 -4 0M811.8 232.8a2.0 2.0 0 1 0 4 0a2.0 2.0 0 1 0 -4 0M829.5 232.8a2.0 2.0 0 1 0 4 0a2.0 2.0 0 1 0 -4 0M829.5 239a2.0 2.0 0 1 0 4 0a2.0 2.0 0 1 0 -4 0M829.5 251.5a2.0 2.0 0 1 0 4 0a2.0 2.0 0 1 0 -4 0M805 243.8a2.0 2.0 0 1 0 4 0a2.0 2.0 0 1 0 -4 0M808 243.8a2.0 2.0 0 1 0 4 0a2.0 2.0 0 1 0 -4 0M811.5 243.8a2.0 2.0 0 1 0 4 0a2.0 2.0 0 1 0 -4 0M808.5 250a2.0 2.0 0 1 0 4 0a2.0 2.0 0 1 0 -4 0M809 256a2.0 2.0 0 1 0 4 0a2.0 2.0 0 1 0 -4 0M808.5 262a2.0 2.0 0 1 0 4 0a2.0 2.0 0 1 0 -4 0M809 268a2.0 2.0 0 1 0 4 0a2.0 2.0 0 1 0 -4 0M808.5 276a2.0 2.0 0 1 0 4 0a2.0 2.0 0 1 0 -4 0M809 283a2.0 2.0 0 1 0 4 0a2.0 2.0 0 1 0 -4 0M808 289a2.0 2.0 0 1 0 4 0a2.0 2.0 0 1 0 -4 0M809 294a2.0 2.0 0 1 0 4 0a2.0 2.0 0 1 0 -4 0M811 252a2.0 2.0 0 1 0 4 0a2.0 2.0 0 1 0 -4 0M811.5 291a2.0 2.0 0 1 0 4 0a2.0 2.0 0 1 0 -4 0M823.6 239.5a2.0 2.0 0 1 0 4 0a2.0 2.0 0 1 0 -4 0M823.6 243a2.0 2.0 0 1 0 4 0a2.0 2.0 0 1 0 -4 0M823.6 246.5a2.0 2.0 0 1 0 4 0a2.0 2.0 0 1 0 -4 0M823.6 250a2.0 2.0 0 1 0 4 0a2.0 2.0 0 1 0 -4 0M823.6 253.5a2.0 2.0 0 1 0 4 0a2.0 2.0 0 1 0 -4 0M823.6 256.3a2.0 2.0 0 1 0 4 0a2.0 2.0 0 1 0 -4 0M823.6 261a2.0 2.0 0 1 0 4 0a2.0 2.0 0 1 0 -4 0M823.6 263.5a2.0 2.0 0 1 0 4 0a2.0 2.0 0 1 0 -4 0M823.6 286.5a2.0 2.0 0 1 0 4 0a2.0 2.0 0 1 0 -4 0M823.6 290a2.0 2.0 0 1 0 4 0a2.0 2.0 0 1 0 -4 0M823.6 294a2.0 2.0 0 1 0 4 0a2.0 2.0 0 1 0 -4 0M823.6 299.5a2.0 2.0 0 1 0 4 0a2.0 2.0 0 1 0 -4 0M823.6 302.8a2.0 2.0 0 1 0 4 0a2.0 2.0 0 1 0 -4 0M829.5 292.5a2.0 2.0 0 1 0 4 0a2.0 2.0 0 1 0 -4 0M829.5 295.5a2.0 2.0 0 1 0 4 0a2.0 2.0 0 1 0 -4 0M829.5 298.8a2.0 2.0 0 1 0 4 0a2.0 2.0 0 1 0 -4 0M829.5 308.9a2.0 2.0 0 1 0 4 0a2.0 2.0 0 1 0 -4 0M806 298a2.0 2.0 0 1 0 4 0a2.0 2.0 0 1 0 -4 0M809 298a2.0 2.0 0 1 0 4 0a2.0 2.0 0 1 0 -4 0M811.8 298a2.0 2.0 0 1 0 4 0a2.0 2.0 0 1 0 -4 0M809 302.5a2.0 2.0 0 1 0 4 0a2.0 2.0 0 1 0 -4 0M812 304a2.0 2.0 0 1 0 4 0a2.0 2.0 0 1 0 -4 0M815 306.5a2.0 2.0 0 1 0 4 0a2.0 2.0 0 1 0 -4 0M823.5 286.7a2.0 2.0 0 1 0 4 0a2.0 2.0 0 1 0 -4 0M823.5 290.3a2.0 2.0 0 1 0 4 0a2.0 2.0 0 1 0 -4 0M823.5 292.9a2.0 2.0 0 1 0 4 0a2.0 2.0 0 1 0 -4 0M829.7 293.4a2.0 2.0 0 1 0 4 0a2.0 2.0 0 1 0 -4 0M829.7 297.6a2.0 2.0 0 1 0 4 0a2.0 2.0 0 1 0 -4 0M823.5 300.7a2.0 2.0 0 1 0 4 0a2.0 2.0 0 1 0 -4 0M841.6 301.8a2.0 2.0 0 1 0 4 0a2.0 2.0 0 1 0 -4 0M811.5 296a2.0 2.0 0 1 0 4 0a2.0 2.0 0 1 0 -4 0M808.4 297.6a2.0 2.0 0 1 0 4 0a2.0 2.0 0 1 0 -4 0M811.5 302.8a2.0 2.0 0 1 0 4 0a2.0 2.0 0 1 0 -4 0M808.4 305.9a2.0 2.0 0 1 0 4 0a2.0 2.0 0 1 0 -4 0M814.6 303.3a2.0 2.0 0 1 0 4 0a2.0 2.0 0 1 0 -4 0M814.6 309a2.0 2.0 0 1 0 4 0a2.0 2.0 0 1 0 -4 0M829.7 310.1a2.0 2.0 0 1 0 4 0a2.0 2.0 0 1 0 -4 0M829.7 313.2a2.0 2.0 0 1 0 4 0a2.0 2.0 0 1 0 -4 0M829.7 317.3a2.0 2.0 0 1 0 4 0a2.0 2.0 0 1 0 -4 0M829.7 321a2.0 2.0 0 1 0 4 0a2.0 2.0 0 1 0 -4 0M807.9 319.9a2.0 2.0 0 1 0 4 0a2.0 2.0 0 1 0 -4 0M811 317.9a2.0 2.0 0 1 0 4 0a2.0 2.0 0 1 0 -4 0M814.1 315.8a2.0 2.0 0 1 0 4 0a2.0 2.0 0 1 0 -4 0M841.6 318.4a2.0 2.0 0 1 0 4 0a2.0 2.0 0 1 0 -4 0M844.8 319.9a2.0 2.0 0 1 0 4 0a2.0 2.0 0 1 0 -4 0M841.6 324.1a2.0 2.0 0 1 0 4 0a2.0 2.0 0 1 0 -4 0M817.2 323.6a2.0 2.0 0 1 0 4 0a2.0 2.0 0 1 0 -4 0M804.8 329.8a2.0 2.0 0 1 0 4 0a2.0 2.0 0 1 0 -4 0M805.3 332.4a2.0 2.0 0 1 0 4 0a2.0 2.0 0 1 0 -4 0M814.1 330.8a2.0 2.0 0 1 0 4 0a2.0 2.0 0 1 0 -4 0M829.7 330.8a2.0 2.0 0 1 0 4 0a2.0 2.0 0 1 0 -4 0M847.9 334.5a2.0 2.0 0 1 0 4 0a2.0 2.0 0 1 0 -4 0M844.8 338.6a2.0 2.0 0 1 0 4 0a2.0 2.0 0 1 0 -4 0M847.9 339.2a2.0 2.0 0 1 0 4 0a2.0 2.0 0 1 0 -4 0M829.7 340.2a2.0 2.0 0 1 0 4 0a2.0 2.0 0 1 0 -4 0M844.8 345.4a2.0 2.0 0 1 0 4 0a2.0 2.0 0 1 0 -4 0M851 350.1a2.0 2.0 0 1 0 4 0a2.0 2.0 0 1 0 -4 0M817.2 347a2.0 2.0 0 1 0 4 0a2.0 2.0 0 1 0 -4 0M820.3 349a2.0 2.0 0 1 0 4 0a2.0 2.0 0 1 0 -4 0M811.5 350.4a2.0 2.0 0 1 0 4 0a2.0 2.0 0 1 0 -4 0M829.7 348.3a2.0 2.0 0 1 0 4 0a2.0 2.0 0 1 0 -4 0M826.1 352.7a2.0 2.0 0 1 0 4 0a2.0 2.0 0 1 0 -4 0M829.7 353.2a2.0 2.0 0 1 0 4 0a2.0 2.0 0 1 0 -4 0M805.3 355.3a2.0 2.0 0 1 0 4 0a2.0 2.0 0 1 0 -4 0M808.4 360.5a2.0 2.0 0 1 0 4 0a2.0 2.0 0 1 0 -4 0M829.7 357.9a2.0 2.0 0 1 0 4 0a2.0 2.0 0 1 0 -4 0M829.7 361a2.0 2.0 0 1 0 4 0a2.0 2.0 0 1 0 -4 0M826.1 363a2.0 2.0 0 1 0 4 0a2.0 2.0 0 1 0 -4 0M829.7 365.1a2.0 2.0 0 1 0 4 0a2.0 2.0 0 1 0 -4 0M829.7 369.3a2.0 2.0 0 1 0 4 0a2.0 2.0 0 1 0 -4 0M829.7 373.4a2.0 2.0 0 1 0 4 0a2.0 2.0 0 1 0 -4 0M854.1 364.1a2.0 2.0 0 1 0 4 0a2.0 2.0 0 1 0 -4 0M847.9 371.9a2.0 2.0 0 1 0 4 0a2.0 2.0 0 1 0 -4 0M854.1 371.9a2.0 2.0 0 1 0 4 0a2.0 2.0 0 1 0 -4 0M808.1 379.6a2.0 2.0 0 1 0 4 0a2.0 2.0 0 1 0 -4 0M847.5 371.7a2.0 2.0 0 1 0 4 0a2.0 2.0 0 1 0 -4 0M853.2 371.7a2.0 2.0 0 1 0 4 0a2.0 2.0 0 1 0 -4 0M856.6 376.2a2.0 2.0 0 1 0 4 0a2.0 2.0 0 1 0 -4 0M850.9 383.5a2.0 2.0 0 1 0 4 0a2.0 2.0 0 1 0 -4 0M854.3 381.3a2.0 2.0 0 1 0 4 0a2.0 2.0 0 1 0 -4 0M857.1 381.8a2.0 2.0 0 1 0 4 0a2.0 2.0 0 1 0 -4 0M856.6 388.6a2.0 2.0 0 1 0 4 0a2.0 2.0 0 1 0 -4 0M859.4 396.5a2.0 2.0 0 1 0 4 0a2.0 2.0 0 1 0 -4 0M863.3 399.3a2.0 2.0 0 1 0 4 0a2.0 2.0 0 1 0 -4 0M866.1 412.8a2.0 2.0 0 1 0 4 0a2.0 2.0 0 1 0 -4 0M868.9 421.2a2.0 2.0 0 1 0 4 0a2.0 2.0 0 1 0 -4 0M872.1 429.9a2.0 2.0 0 1 0 4 0a2.0 2.0 0 1 0 -4 0M875.1 438.5a2.0 2.0 0 1 0 4 0a2.0 2.0 0 1 0 -4 0M878.2 447.1a2.0 2.0 0 1 0 4 0a2.0 2.0 0 1 0 -4 0M881.1 455.8a2.0 2.0 0 1 0 4 0a2.0 2.0 0 1 0 -4 0M884.1 464a2.0 2.0 0 1 0 4 0a2.0 2.0 0 1 0 -4 0M887.2 472.1a2.0 2.0 0 1 0 4 0a2.0 2.0 0 1 0 -4 0M890.3 480.1a2.0 2.0 0 1 0 4 0a2.0 2.0 0 1 0 -4 0M893.5 488a2.0 2.0 0 1 0 4 0a2.0 2.0 0 1 0 -4 0M896.5 495.6a2.0 2.0 0 1 0 4 0a2.0 2.0 0 1 0 -4 0M829.5 372a2.0 2.0 0 1 0 4 0a2.0 2.0 0 1 0 -4 0M829.5 376a2.0 2.0 0 1 0 4 0a2.0 2.0 0 1 0 -4 0M829.5 380a2.0 2.0 0 1 0 4 0a2.0 2.0 0 1 0 -4 0M829.5 392a2.0 2.0 0 1 0 4 0a2.0 2.0 0 1 0 -4 0M829.5 399.8a2.0 2.0 0 1 0 4 0a2.0 2.0 0 1 0 -4 0M829.5 408.9a2.0 2.0 0 1 0 4 0a2.0 2.0 0 1 0 -4 0M832.3 406.6a2.0 2.0 0 1 0 4 0a2.0 2.0 0 1 0 -4 0M829.5 412.2a2.0 2.0 0 1 0 4 0a2.0 2.0 0 1 0 -4 0M829.5 417.3a2.0 2.0 0 1 0 4 0a2.0 2.0 0 1 0 -4 0M829.5 422.4a2.0 2.0 0 1 0 4 0a2.0 2.0 0 1 0 -4 0M829.5 425.2a2.0 2.0 0 1 0 4 0a2.0 2.0 0 1 0 -4 0M829.5 427.4a2.0 2.0 0 1 0 4 0a2.0 2.0 0 1 0 -4 0M805.3 414.5a2.0 2.0 0 1 0 4 0a2.0 2.0 0 1 0 -4 0M808.1 438.7a2.0 2.0 0 1 0 4 0a2.0 2.0 0 1 0 -4 0M814.3 437.3a2.0 2.0 0 1 0 4 0a2.0 2.0 0 1 0 -4 0M811.5 442.6a2.0 2.0 0 1 0 4 0a2.0 2.0 0 1 0 -4 0M820.5 443.4a2.0 2.0 0 1 0 4 0a2.0 2.0 0 1 0 -4 0M826.7 441.5a2.0 2.0 0 1 0 4 0a2.0 2.0 0 1 0 -4 0M805.3 444.9a2.0 2.0 0 1 0 4 0a2.0 2.0 0 1 0 -4 0"/>
<path d="M807.2 243V300" stroke="#000" stroke-width="4.4" stroke-dasharray="4 1.3" fill="none"/>
<path d="M1041 226V243.4M1044.3 198.7V225.3M1046.9 196.1V205.2M1046.9 179.3V184.4M1050.7 179.3V196.1M1050.1 161.8V179.3M1053.3 162.4V178M1055.9 136.5V161.1M1053.3 144.3V161.1M1059.2 242.8V252.5M1037.8 263.5V268.5M1037.8 273.5V277.5M1059.2 287.9V298.9M1041 297.6V315.1M1044.3 318.3V343M1046.9 330V332.6M1048.1 341.7V362.4M1046.2 359V362M1052.7 358.5V380.6M1055.9 359.8V381.9M1050.1 363.7V380.6M1054 384.4V396.1M1055.9 384.4V404.5M1052.7 388.3V396.1" stroke="#000" stroke-width="3.0" stroke-linecap="round" fill="none"/>
<path d="M899.4 270.7H1036.6" stroke="#000" stroke-width="2.8" fill="none" stroke-linecap="round"/>
<path d="M1060.8 270.7H1174" stroke="#000" stroke-width="2.8" fill="none" stroke-linecap="round"/>
<path d="M1325 271H1349.8" stroke="#000" stroke-width="2.8" fill="none" stroke-linecap="round"/>
<path d="M802 270.8H812.5" stroke="#000" stroke-width="2.4" fill="none" stroke-linecap="round"/>
<path d="M836.5 270.8H841.5" stroke="#000" stroke-width="2.6" fill="none" stroke-linecap="round"/>
<path d="M1173.4 270.4L1173.5 270.2L1173.8 269.9L1174.2 269.5L1174.6 269.0L1175.2 268.3L1175.8 267.7L1176.5 267.1L1177.2 266.5L1178.0 265.9L1178.8 265.3L1179.7 264.8L1180.6 264.2L1181.6 263.6L1182.7 263.0L1183.8 262.5L1184.9 261.9L1186.1 261.4L1187.3 260.8L1188.5 260.3L1189.8 259.8L1191.1 259.2L1192.5 258.7L1193.9 258.2L1195.4 257.6L1196.9 257.1L1198.4 256.6L1199.9 256.1L1201.5 255.6L1203.1 255.1L1204.8 254.6L1206.5 254.1L1208.2 253.5L1210.0 253.0L1211.8 252.4L1213.6 251.9L1215.4 251.4L1217.3 250.8L1219.2 250.3L1221.2 249.7L1223.1 249.2L1225.2 248.6L1227.2 248.1L1229.2 247.6L1231.3 247.1L1233.5 246.6L1235.6 246.1L1237.8 245.7L1240.0 245.3L1242.2 244.9L1244.5 244.5L1246.8 244.1L1249.1 243.8L1251.4 243.4L1253.8 243.1L1256.2 242.8L1258.6 242.5L1261.1 242.2L1263.5 241.9L1266.0 241.6L1268.6 241.3L1271.1 241.1L1273.7 240.8L1276.3 240.5L1278.9 240.3L1281.6 240.0L1284.2 239.7L1286.9 239.5L1289.7 239.2L1292.4 238.9L1295.2 238.6L1298.0 238.4L1300.8 238.1L1303.6 237.8L1306.5 237.6L1309.4 237.3L1312.3 237.1L1315.3 236.8L1318.2 236.5L1321.2 236.3L1324.2 236.0" stroke="#000" stroke-width="3.2" fill="none" stroke-linejoin="round"/>
<path d="M1173.4 270.4L1173.5 270.6L1173.8 270.9L1174.2 271.4L1174.6 272.0L1175.2 272.7L1175.8 273.4L1176.5 274.1L1177.2 274.8L1178.0 275.4L1178.8 276.0L1179.7 276.7L1180.6 277.3L1181.6 277.9L1182.7 278.6L1183.8 279.2L1184.9 279.8L1186.1 280.4L1187.3 281.0L1188.5 281.6L1189.8 282.2L1191.1 282.8L1192.5 283.4L1193.9 284.0L1195.4 284.6L1196.9 285.2L1198.4 285.7L1199.9 286.1L1201.5 286.6L1203.1 287.1L1204.8 287.6L1206.5 288.0L1208.2 288.5L1210.0 289.0L1211.8 289.4L1213.6 289.9L1215.4 290.3L1217.3 290.8L1219.2 291.2L1221.2 291.7L1223.1 292.1L1225.2 292.6L1227.2 293.0L1229.2 293.4L1231.3 293.8L1233.5 294.3L1235.6 294.7L1237.8 295.1L1240.0 295.5L1242.2 295.9L1244.5 296.3L1246.8 296.7L1249.1 297.1L1251.4 297.5L1253.8 297.9L1256.2 298.3L1258.6 298.7L1261.1 299.1L1263.5 299.5L1266.0 299.9L1268.6 300.2L1271.1 300.6L1273.7 301.0L1276.3 301.3L1278.9 301.7L1281.6 302.0L1284.2 302.4L1286.9 302.7L1289.7 303.1L1292.4 303.4L1295.2 303.7L1298.0 304.1L1300.8 304.4L1303.6 304.7L1306.5 305.0L1309.4 305.3L1312.3 305.6L1315.3 305.9L1318.2 306.2L1321.2 306.5L1324.2 306.8" stroke="#000" stroke-width="3.2" fill="none" stroke-linejoin="round"/>
<path d="M1181 214.2L1317.5 213.9" stroke="#333" stroke-width="1.3" fill="none"/>
<path fill="#111" d="M1173 214.2L1190 207.3L1183.5 214.2L1190 221.1Z"/>
<path fill="#111" d="M1325.5 213.9L1308.5 207L1315 213.9L1308.5 220.8Z"/>
<text x="1212" y="203.8" class="ann" font-size="20" textLength="74.5" lengthAdjust="spacingAndGlyphs">61~85.5</text>
<rect x="827.6" y="457.3" width="12.4" height="2.6" fill="#111"/>
<rect x="827.6" y="478.3" width="12.4" height="2.6" fill="#111"/>
<rect x="832.6" y="457.3" width="2.4" height="23.6" fill="#2a2a2a"/>
<rect x="874.3" y="391.4" width="22.5" height="2.6" fill="#111"/>
<rect x="874.3" y="411.9" width="22.5" height="2.6" fill="#111"/>
<rect x="878.6" y="391.4" width="2.4" height="23.1" fill="#2a2a2a"/>
<rect x="890.4" y="391.4" width="2.4" height="23.1" fill="#2a2a2a"/>
<rect x="1235.6" y="450.9" width="25.1" height="2.6" fill="#111"/>
<rect x="1235.6" y="471.4" width="25.1" height="2.6" fill="#111"/>
<rect x="1238.3" y="450.9" width="2.4" height="23.1" fill="#2a2a2a"/>
<rect x="1247.1" y="450.9" width="2.4" height="23.1" fill="#2a2a2a"/>
<rect x="1255.8" y="450.9" width="2.4" height="23.1" fill="#2a2a2a"/>
<text x="1036.4" y="477.8" class="iv" font-size="35.9" textLength="29.7" lengthAdjust="spacingAndGlyphs">IV</text>
<text x="960.3" y="554.3" class="lbs" font-size="27.4" textLength="233.5" lengthAdjust="spacingAndGlyphs">Pulsating frequency</text>
<text transform="translate(737 413.3) rotate(-90)" class="lbs" font-size="27.4" textLength="285" lengthAdjust="spacingAndGlyphs">Displacement amplitude</text>
<text x="718.3" y="24.8" class="plab">B</text>
<text x="805.0" y="523.9" class="xt">0</text>
<text x="865.5" y="523.9" class="xt">10</text>
<text x="926.1" y="523.9" class="xt">20</text>
<text x="986.6" y="523.9" class="xt">30</text>
<text x="1047.1" y="523.9" class="xt">40</text>
<text x="1107.7" y="523.9" class="xt">50</text>
<text x="1168.2" y="523.9" class="xt">60</text>
<text x="1228.7" y="523.9" class="xt">70</text>
<text x="1289.3" y="523.9" class="xt">80</text>
<text x="1349.8" y="523.9" class="xt">90</text>
<text x="797.0" y="51.7" class="yt">0.02</text>
<text x="797.0" y="108.5" class="yt">0.015</text>
<text x="797.0" y="165.3" class="yt">0.01</text>
<text x="797.0" y="222.1" class="yt">0.005</text>
<text x="797.0" y="278.9" class="yt">0</text>
<text x="797.0" y="335.8" class="yt">-0.005</text>
<text x="797.0" y="392.6" class="yt">-0.01</text>
<text x="797.0" y="449.4" class="yt">-0.015</text>
<text x="797.0" y="506.2" class="yt">-0.02</text>
<path class="ax" d="M805.0 498.4V492.9M805.0 43.9V49.4M865.5 498.4V492.9M865.5 43.9V49.4M926.1 498.4V492.9M926.1 43.9V49.4M986.6 498.4V492.9M986.6 43.9V49.4M1047.1 498.4V492.9M1047.1 43.9V49.4M1107.7 498.4V492.9M1107.7 43.9V49.4M1168.2 498.4V492.9M1168.2 43.9V49.4M1228.7 498.4V492.9M1228.7 43.9V49.4M1289.3 498.4V492.9M1289.3 43.9V49.4M1349.8 498.4V492.9M1349.8 43.9V49.4M805.0 43.9H810.5M1349.8 43.9H1344.3M805.0 100.7H810.5M1349.8 100.7H1344.3M805.0 157.5H810.5M1349.8 157.5H1344.3M805.0 214.3H810.5M1349.8 214.3H1344.3M805.0 271.1H810.5M1349.8 271.1H1344.3M805.0 328.0H810.5M1349.8 328.0H1344.3M805.0 384.8H810.5M1349.8 384.8H1344.3M805.0 441.6H810.5M1349.8 441.6H1344.3M805.0 498.4H810.5M1349.8 498.4H1344.3"/>
<rect x="805.0" y="43.9" width="544.8" height="454.5" class="box"/>
<path fill="#000" stroke="#000" stroke-width="0.6" stroke-linejoin="round" d="M97 836L100 821L103 814L110 813L117 813.5L117.5 830L117 870L116.8 908L113 910.5L106 910L103 906L100.5 900L99.5 888L97 884Z"/>
<rect x="104.3" y="842" width="6.3" height="41.5" fill="#fff"/>
<circle cx="104.3" cy="830.2" r="2.3" fill="#fff"/>
<circle cx="110.8" cy="846" r="1.2" fill="#fff"/>
<circle cx="110.8" cy="858" r="1.0" fill="#fff"/>
<circle cx="110.8" cy="872" r="1.2" fill="#fff"/>
<circle cx="97.4" cy="842" r="1.0" fill="#fff"/>
<circle cx="97.4" cy="852" r="1.0" fill="#fff"/>
<circle cx="97.4" cy="866" r="1.1" fill="#fff"/>
<circle cx="97.4" cy="876" r="1.0" fill="#fff"/>
<circle cx="101" cy="896" r="1.0" fill="#fff"/>
<circle cx="106.5" cy="893" r="1.2" fill="#fff"/>
<circle cx="104.5" cy="888" r="0.9" fill="#fff"/>
<circle cx="113.5" cy="864" r="0.8" fill="#fff"/>
<circle cx="113" cy="896" r="0.9" fill="#fff"/>
<circle cx="107.5" cy="820" r="0.9" fill="#fff"/>
<circle cx="114" cy="826" r="0.8" fill="#fff"/>
<path class="dt" d="M99.8 753a2.0 2.0 0 1 0 4 0a2.0 2.0 0 1 0 -4 0M102.4 753a2.0 2.0 0 1 0 4 0a2.0 2.0 0 1 0 -4 0M105.5 756.1a2.0 2.0 0 1 0 4 0a2.0 2.0 0 1 0 -4 0M108.6 759.2a2.0 2.0 0 1 0 4 0a2.0 2.0 0 1 0 -4 0M108.6 764.4a2.0 2.0 0 1 0 4 0a2.0 2.0 0 1 0 -4 0M99.3 762.7a2.0 2.0 0 1 0 4 0a2.0 2.0 0 1 0 -4 0M99.3 768.6a2.0 2.0 0 1 0 4 0a2.0 2.0 0 1 0 -4 0M114.7 772.2a2.0 2.0 0 1 0 4 0a2.0 2.0 0 1 0 -4 0M130.5 755.6a2.0 2.0 0 1 0 4 0a2.0 2.0 0 1 0 -4 0M126.3 769.6a2.0 2.0 0 1 0 4 0a2.0 2.0 0 1 0 -4 0M108.1 785.5a2.0 2.0 0 1 0 4 0a2.0 2.0 0 1 0 -4 0M123.7 784.2a2.0 2.0 0 1 0 4 0a2.0 2.0 0 1 0 -4 0M111.8 791.5a2.0 2.0 0 1 0 4 0a2.0 2.0 0 1 0 -4 0M105.5 798.7a2.0 2.0 0 1 0 4 0a2.0 2.0 0 1 0 -4 0M111.8 800.3a2.0 2.0 0 1 0 4 0a2.0 2.0 0 1 0 -4 0M108.6 803.9a2.0 2.0 0 1 0 4 0a2.0 2.0 0 1 0 -4 0M114.3 807a2.0 2.0 0 1 0 4 0a2.0 2.0 0 1 0 -4 0M120.6 799.3a2.0 2.0 0 1 0 4 0a2.0 2.0 0 1 0 -4 0M123.7 802.9a2.0 2.0 0 1 0 4 0a2.0 2.0 0 1 0 -4 0M105.5 808.6a2.0 2.0 0 1 0 4 0a2.0 2.0 0 1 0 -4 0M102.4 811.7a2.0 2.0 0 1 0 4 0a2.0 2.0 0 1 0 -4 0M99.3 814.8a2.0 2.0 0 1 0 4 0a2.0 2.0 0 1 0 -4 0M99.3 817.4a2.0 2.0 0 1 0 4 0a2.0 2.0 0 1 0 -4 0M120.6 811.7a2.0 2.0 0 1 0 4 0a2.0 2.0 0 1 0 -4 0M120.6 817.4a2.0 2.0 0 1 0 4 0a2.0 2.0 0 1 0 -4 0M120.6 825.2a2.0 2.0 0 1 0 4 0a2.0 2.0 0 1 0 -4 0M120.6 829.4a2.0 2.0 0 1 0 4 0a2.0 2.0 0 1 0 -4 0M125.8 769.7a2.0 2.0 0 1 0 4 0a2.0 2.0 0 1 0 -4 0M117.5 863.3a2.0 2.0 0 1 0 4 0a2.0 2.0 0 1 0 -4 0M120.6 900.7a2.0 2.0 0 1 0 4 0a2.0 2.0 0 1 0 -4 0M120.6 909.3a2.0 2.0 0 1 0 4 0a2.0 2.0 0 1 0 -4 0M96.2 912.4a2.0 2.0 0 1 0 4 0a2.0 2.0 0 1 0 -4 0M99.3 912.4a2.0 2.0 0 1 0 4 0a2.0 2.0 0 1 0 -4 0M102.4 913.9a2.0 2.0 0 1 0 4 0a2.0 2.0 0 1 0 -4 0M108.6 911.3a2.0 2.0 0 1 0 4 0a2.0 2.0 0 1 0 -4 0M111.8 911.3a2.0 2.0 0 1 0 4 0a2.0 2.0 0 1 0 -4 0M114.9 912.4a2.0 2.0 0 1 0 4 0a2.0 2.0 0 1 0 -4 0M105.5 918.1a2.0 2.0 0 1 0 4 0a2.0 2.0 0 1 0 -4 0M108.6 920.7a2.0 2.0 0 1 0 4 0a2.0 2.0 0 1 0 -4 0M108.6 924.8a2.0 2.0 0 1 0 4 0a2.0 2.0 0 1 0 -4 0M111.8 917.6a2.0 2.0 0 1 0 4 0a2.0 2.0 0 1 0 -4 0M114.9 920.2a2.0 2.0 0 1 0 4 0a2.0 2.0 0 1 0 -4 0M123.7 918.6a2.0 2.0 0 1 0 4 0a2.0 2.0 0 1 0 -4 0M126.3 926.4a2.0 2.0 0 1 0 4 0a2.0 2.0 0 1 0 -4 0M130.5 933.2a2.0 2.0 0 1 0 4 0a2.0 2.0 0 1 0 -4 0M105.5 930.2a2.0 2.0 0 1 0 4 0a2.0 2.0 0 1 0 -4 0M111.8 930.2a2.0 2.0 0 1 0 4 0a2.0 2.0 0 1 0 -4 0M111.8 933.2a2.0 2.0 0 1 0 4 0a2.0 2.0 0 1 0 -4 0M111.8 936.8a2.0 2.0 0 1 0 4 0a2.0 2.0 0 1 0 -4 0M96.7 938.9a2.0 2.0 0 1 0 4 0a2.0 2.0 0 1 0 -4 0M114.9 954.5a2.0 2.0 0 1 0 4 0a2.0 2.0 0 1 0 -4 0M99.3 959.1a2.0 2.0 0 1 0 4 0a2.0 2.0 0 1 0 -4 0M99.3 963.8a2.0 2.0 0 1 0 4 0a2.0 2.0 0 1 0 -4 0M108.6 969a2.0 2.0 0 1 0 4 0a2.0 2.0 0 1 0 -4 0M116 815a2.0 2.0 0 1 0 4 0a2.0 2.0 0 1 0 -4 0M116.5 826a2.0 2.0 0 1 0 4 0a2.0 2.0 0 1 0 -4 0M116 840a2.0 2.0 0 1 0 4 0a2.0 2.0 0 1 0 -4 0M115.8 852a2.0 2.0 0 1 0 4 0a2.0 2.0 0 1 0 -4 0M116 872a2.0 2.0 0 1 0 4 0a2.0 2.0 0 1 0 -4 0M116 895a2.0 2.0 0 1 0 4 0a2.0 2.0 0 1 0 -4 0M97 906a2.0 2.0 0 1 0 4 0a2.0 2.0 0 1 0 -4 0M94.5 880a2.0 2.0 0 1 0 4 0a2.0 2.0 0 1 0 -4 0M194.9 677.4a2.0 2.0 0 1 0 4 0a2.0 2.0 0 1 0 -4 0M193.3 684.2a2.0 2.0 0 1 0 4 0a2.0 2.0 0 1 0 -4 0M190.2 690.9a2.0 2.0 0 1 0 4 0a2.0 2.0 0 1 0 -4 0M187.1 697.4a2.0 2.0 0 1 0 4 0a2.0 2.0 0 1 0 -4 0M184.3 704.1a2.0 2.0 0 1 0 4 0a2.0 2.0 0 1 0 -4 0M181.2 710.9a2.0 2.0 0 1 0 4 0a2.0 2.0 0 1 0 -4 0M178.3 717.6a2.0 2.0 0 1 0 4 0a2.0 2.0 0 1 0 -4 0M175.2 724.7a2.0 2.0 0 1 0 4 0a2.0 2.0 0 1 0 -4 0M172 731.7a2.0 2.0 0 1 0 4 0a2.0 2.0 0 1 0 -4 0M168.9 739a2.0 2.0 0 1 0 4 0a2.0 2.0 0 1 0 -4 0M165.8 746.5a2.0 2.0 0 1 0 4 0a2.0 2.0 0 1 0 -4 0M162.9 754.2a2.0 2.0 0 1 0 4 0a2.0 2.0 0 1 0 -4 0M160.1 762a2.0 2.0 0 1 0 4 0a2.0 2.0 0 1 0 -4 0M157 769.5a2.0 2.0 0 1 0 4 0a2.0 2.0 0 1 0 -4 0M153.9 777a2.0 2.0 0 1 0 4 0a2.0 2.0 0 1 0 -4 0M153.9 780.7a2.0 2.0 0 1 0 4 0a2.0 2.0 0 1 0 -4 0M151 785.3a2.0 2.0 0 1 0 4 0a2.0 2.0 0 1 0 -4 0M151 789a2.0 2.0 0 1 0 4 0a2.0 2.0 0 1 0 -4 0M151 791a2.0 2.0 0 1 0 4 0a2.0 2.0 0 1 0 -4 0M148.1 794.2a2.0 2.0 0 1 0 4 0a2.0 2.0 0 1 0 -4 0M148.1 797.8a2.0 2.0 0 1 0 4 0a2.0 2.0 0 1 0 -4 0M148.1 801.4a2.0 2.0 0 1 0 4 0a2.0 2.0 0 1 0 -4 0M144.8 804.6a2.0 2.0 0 1 0 4 0a2.0 2.0 0 1 0 -4 0M144.8 808.2a2.0 2.0 0 1 0 4 0a2.0 2.0 0 1 0 -4 0M145.2 813.4a2.0 2.0 0 1 0 4 0a2.0 2.0 0 1 0 -4 0M141.7 817.6a2.0 2.0 0 1 0 4 0a2.0 2.0 0 1 0 -4 0M141.7 821.2a2.0 2.0 0 1 0 4 0a2.0 2.0 0 1 0 -4 0M141.9 826.9a2.0 2.0 0 1 0 4 0a2.0 2.0 0 1 0 -4 0M138.8 839.4a2.0 2.0 0 1 0 4 0a2.0 2.0 0 1 0 -4 0M138.8 842.5a2.0 2.0 0 1 0 4 0a2.0 2.0 0 1 0 -4 0M138.8 846.1a2.0 2.0 0 1 0 4 0a2.0 2.0 0 1 0 -4 0M138.9 880a2.0 2.0 0 1 0 4 0a2.0 2.0 0 1 0 -4 0M138.9 884a2.0 2.0 0 1 0 4 0a2.0 2.0 0 1 0 -4 0M138.9 888a2.0 2.0 0 1 0 4 0a2.0 2.0 0 1 0 -4 0M141.9 899.8a2.0 2.0 0 1 0 4 0a2.0 2.0 0 1 0 -4 0M141.9 903.5a2.0 2.0 0 1 0 4 0a2.0 2.0 0 1 0 -4 0M141.9 907.8a2.0 2.0 0 1 0 4 0a2.0 2.0 0 1 0 -4 0M144.9 913.8a2.0 2.0 0 1 0 4 0a2.0 2.0 0 1 0 -4 0M144.9 917a2.0 2.0 0 1 0 4 0a2.0 2.0 0 1 0 -4 0M144.9 919.7a2.0 2.0 0 1 0 4 0a2.0 2.0 0 1 0 -4 0M147.9 925.7a2.0 2.0 0 1 0 4 0a2.0 2.0 0 1 0 -4 0M147.9 930.7a2.0 2.0 0 1 0 4 0a2.0 2.0 0 1 0 -4 0M150.9 936.7a2.0 2.0 0 1 0 4 0a2.0 2.0 0 1 0 -4 0M150.9 941.6a2.0 2.0 0 1 0 4 0a2.0 2.0 0 1 0 -4 0M153.8 946.6a2.0 2.0 0 1 0 4 0a2.0 2.0 0 1 0 -4 0M153.8 949.6a2.0 2.0 0 1 0 4 0a2.0 2.0 0 1 0 -4 0M156.8 957.6a2.0 2.0 0 1 0 4 0a2.0 2.0 0 1 0 -4 0M159.8 964.9a2.0 2.0 0 1 0 4 0a2.0 2.0 0 1 0 -4 0M163.4 972.5a2.0 2.0 0 1 0 4 0a2.0 2.0 0 1 0 -4 0M166.2 980.5a2.0 2.0 0 1 0 4 0a2.0 2.0 0 1 0 -4 0M169.4 988a2.0 2.0 0 1 0 4 0a2.0 2.0 0 1 0 -4 0M172.2 995.4a2.0 2.0 0 1 0 4 0a2.0 2.0 0 1 0 -4 0M175.3 1002.4a2.0 2.0 0 1 0 4 0a2.0 2.0 0 1 0 -4 0M178.3 1009.3a2.0 2.0 0 1 0 4 0a2.0 2.0 0 1 0 -4 0M181.3 1016.3a2.0 2.0 0 1 0 4 0a2.0 2.0 0 1 0 -4 0M184.3 1023.3a2.0 2.0 0 1 0 4 0a2.0 2.0 0 1 0 -4 0M187.3 1029.9a2.0 2.0 0 1 0 4 0a2.0 2.0 0 1 0 -4 0M190.7 1036.2a2.0 2.0 0 1 0 4 0a2.0 2.0 0 1 0 -4 0M193.7 1042.8a2.0 2.0 0 1 0 4 0a2.0 2.0 0 1 0 -4 0M196.7 1049.2a2.0 2.0 0 1 0 4 0a2.0 2.0 0 1 0 -4 0"/>
<path fill="#000" stroke="#000" stroke-width="0.6" stroke-linejoin="round" d="M336.1 838.4L336.1 822.7L339.3 821.4L339.3 800L341.9 798L341.9 785L345.2 781.1L345.2 771.4L348.4 769.4L348.4 759L351.7 758.4L351.7 748.6L354.3 746L354.3 738.2L357.5 729.1L359.5 729.8L359.5 740.8L360.1 746L360.1 764.2L356.9 765.5L356.9 774.6L353 777.2L353 786.3L348.4 790.2L348.4 800.6L344.5 801.3L344.5 812.3L341.3 813.6L341.3 824L338 825.3L338 838.4Z"/>
<path fill="#000" stroke="#000" stroke-width="0.6" stroke-linejoin="round" d="M336.1 890.6L338.7 890.6L338.7 904.9L341.9 905.5L341.9 915.9L344.5 916.6L344.5 930.9L348.4 932.8L350.4 935.4L350.4 944.5L353 944.5L356.2 951L356.2 961.4L359.5 962.7L359.5 968L357.5 969.2L359.9 973.1L359.9 996.6L357.5 997.9L356.2 988.8L353.6 987.5L351.7 979L348.4 968L347.1 956.2L345.2 953.6L345.2 943.2L341.9 941.9L341.3 927.6L338.7 926.3L338 905.5L336.1 904.9Z"/>
<circle cx="352.3" cy="765" r="0.9" fill="#fff"/>
<circle cx="352.5" cy="772" r="0.9" fill="#fff"/>
<circle cx="346.5" cy="787.5" r="0.9" fill="#fff"/>
<circle cx="349" cy="780" r="0.9" fill="#fff"/>
<circle cx="356" cy="752" r="0.9" fill="#fff"/>
<circle cx="343" cy="800" r="0.9" fill="#fff"/>
<circle cx="345.8" cy="951" r="0.9" fill="#fff"/>
<circle cx="351" cy="958.8" r="0.9" fill="#fff"/>
<circle cx="356.2" cy="984.9" r="0.9" fill="#fff"/>
<circle cx="348" cy="940" r="0.9" fill="#fff"/>
<path d="M93.5 863.4H100" stroke="#000" stroke-width="2.4" fill="none" stroke-linecap="round"/>
<path d="M134.5 863.6H139.7" stroke="#000" stroke-width="2.6" fill="none" stroke-linecap="round"/>
<path d="M203.1 863.6H331.5" stroke="#000" stroke-width="2.8" fill="none" stroke-linecap="round"/>
<path d="M362.5 863.6H468" stroke="#000" stroke-width="2.8" fill="none" stroke-linecap="round"/>
<path d="M620.3 863.6H638.5" stroke="#000" stroke-width="2.8" fill="none" stroke-linecap="round"/>
<path d="M334.3 855.8V860.8M334.3 866.8V871.8M360.8 860.8V866.5" stroke="#000" stroke-width="3.2" stroke-linecap="round" fill="none"/>
<path d="M467.7 863.5L467.8 863.3L468.1 863.0L468.5 862.5L469.0 861.9L469.5 861.3L470.1 860.7L470.8 860.1L471.5 859.5L472.3 858.9L473.1 858.3L474.0 857.7L475.0 857.1L475.9 856.5L477.0 855.9L478.1 855.4L479.2 854.8L480.4 854.2L481.6 853.7L482.8 853.1L484.1 852.5L485.5 852.0L486.8 851.5L488.2 851.0L489.7 850.6L491.2 850.1L492.7 849.7L494.3 849.2L495.9 848.8L497.5 848.3L499.1 847.8L500.8 847.4L502.6 846.9L504.3 846.5L506.1 846.1L507.9 845.6L509.8 845.2L511.7 844.8L513.6 844.3L515.5 843.9L517.5 843.5L519.5 843.1L521.6 842.7L523.6 842.3L525.7 842.0L527.8 841.6L530.0 841.3L532.2 840.9L534.4 840.6L536.6 840.3L538.9 840.0L541.2 839.7L543.5 839.3L545.8 839.0L548.2 838.7L550.6 838.5L553.0 838.2L555.5 837.9L558.0 837.6L560.5 837.4L563.0 837.1L565.5 836.9L568.1 836.6L570.7 836.4L573.4 836.2L576.0 836.0L578.7 835.8L581.4 835.6L584.1 835.4L586.9 835.3L589.7 835.1L592.5 835.0L595.3 834.8L598.1 834.7L601.0 834.6L603.9 834.4L606.8 834.3L609.7 834.1L612.7 834.0L615.7 833.9L618.7 833.7" stroke="#000" stroke-width="3.2" fill="none" stroke-linejoin="round"/>
<path d="M467.7 863.5L467.8 863.7L468.1 864.0L468.5 864.6L469.0 865.2L469.5 865.9L470.1 866.6L470.8 867.2L471.5 867.9L472.3 868.5L473.1 869.2L474.0 869.8L475.0 870.4L475.9 871.1L477.0 871.7L478.1 872.3L479.2 872.9L480.4 873.6L481.6 874.2L482.8 874.8L484.1 875.4L485.5 876.0L486.8 876.5L488.2 876.9L489.7 877.4L491.2 877.8L492.7 878.2L494.3 878.7L495.9 879.1L497.5 879.5L499.1 879.9L500.8 880.3L502.6 880.7L504.3 881.1L506.1 881.5L507.9 881.9L509.8 882.2L511.7 882.6L513.6 883.0L515.5 883.3L517.5 883.7L519.5 884.0L521.6 884.3L523.6 884.7L525.7 885.0L527.8 885.3L530.0 885.6L532.2 886.0L534.4 886.3L536.6 886.6L538.9 886.9L541.2 887.3L543.5 887.6L545.8 887.9L548.2 888.2L550.6 888.5L553.0 888.8L555.5 889.1L558.0 889.4L560.5 889.6L563.0 889.9L565.5 890.2L568.1 890.4L570.7 890.7L573.4 890.9L576.0 891.1L578.7 891.3L581.4 891.5L584.1 891.7L586.9 891.8L589.7 892.0L592.5 892.1L595.3 892.3L598.1 892.4L601.0 892.6L603.9 892.7L606.8 892.8L609.7 893.0L612.7 893.1L615.7 893.2L618.7 893.4" stroke="#000" stroke-width="3.2" fill="none" stroke-linejoin="round"/>
<path d="M477.3 805.5L608.4 805.1" stroke="#333" stroke-width="1.3" fill="none"/>
<path fill="#111" d="M469.3 805.5L486.3 798.6L479.8 805.5L486.3 812.4Z"/>
<path fill="#111" d="M616.4 805.1L599.4 798.2L605.9 805.1L599.4 812Z"/>
<text x="507.5" y="795.3" class="ann" font-size="20" textLength="74" lengthAdjust="spacingAndGlyphs">62~86.5</text>
<rect x="108.5" y="1055" width="12.5" height="2.6" fill="#111"/>
<rect x="108.5" y="1075.2" width="12.5" height="2.6" fill="#111"/>
<rect x="113.6" y="1055" width="2.3" height="22.8" fill="#2a2a2a"/>
<rect x="155.5" y="1055" width="22.4" height="2.6" fill="#111"/>
<rect x="155.5" y="1075.2" width="22.4" height="2.6" fill="#111"/>
<rect x="159.8" y="1055" width="2.3" height="22.8" fill="#2a2a2a"/>
<rect x="171.6" y="1055" width="2.3" height="22.8" fill="#2a2a2a"/>
<rect x="532.3" y="1050.5" width="24.8" height="2.5" fill="#111"/>
<rect x="532.3" y="1070.3" width="24.8" height="2.5" fill="#111"/>
<rect x="535" y="1050.5" width="2.3" height="22.3" fill="#2a2a2a"/>
<rect x="543.7" y="1050.5" width="2.3" height="22.3" fill="#2a2a2a"/>
<rect x="552.3" y="1050.5" width="2.3" height="22.3" fill="#2a2a2a"/>
<text x="339.7" y="1075.7" class="iv" font-size="29.8" textLength="24.9" lengthAdjust="spacingAndGlyphs">IV</text>
<text x="236.5" y="1147.5" class="lbn" font-size="26" textLength="262.5" lengthAdjust="spacingAndGlyphs">Pulsating frequency</text>
<text transform="translate(28.1 1021.5) rotate(-90)" class="lbn" font-size="26" textLength="314" lengthAdjust="spacingAndGlyphs">Displacement amplitude</text>
<text x="9.2" y="615.6" class="plab">C</text>
<text x="96.5" y="1114.6" class="xt">0</text>
<text x="156.7" y="1114.6" class="xt">10</text>
<text x="216.9" y="1114.6" class="xt">20</text>
<text x="277.2" y="1114.6" class="xt">30</text>
<text x="337.4" y="1114.6" class="xt">40</text>
<text x="397.6" y="1114.6" class="xt">50</text>
<text x="457.8" y="1114.6" class="xt">60</text>
<text x="518.1" y="1114.6" class="xt">70</text>
<text x="578.3" y="1114.6" class="xt">80</text>
<text x="638.5" y="1114.6" class="xt">90</text>
<text x="88.5" y="645.3" class="yt">0.025</text>
<text x="88.5" y="690.5" class="yt">0.02</text>
<text x="88.5" y="735.6" class="yt">0.015</text>
<text x="88.5" y="780.8" class="yt">0.01</text>
<text x="88.5" y="825.9" class="yt">0.005</text>
<text x="88.5" y="871.1" class="yt">0</text>
<text x="88.5" y="916.3" class="yt">-0.005</text>
<text x="88.5" y="961.4" class="yt">-0.01</text>
<text x="88.5" y="1006.6" class="yt">-0.015</text>
<text x="88.5" y="1051.7" class="yt">-0.02</text>
<text x="88.5" y="1096.9" class="yt">-0.025</text>
<path class="ax" d="M96.5 1089.1V1083.6M96.5 637.5V643.0M156.7 1089.1V1083.6M156.7 637.5V643.0M216.9 1089.1V1083.6M216.9 637.5V643.0M277.2 1089.1V1083.6M277.2 637.5V643.0M337.4 1089.1V1083.6M337.4 637.5V643.0M397.6 1089.1V1083.6M397.6 637.5V643.0M457.8 1089.1V1083.6M457.8 637.5V643.0M518.1 1089.1V1083.6M518.1 637.5V643.0M578.3 1089.1V1083.6M578.3 637.5V643.0M638.5 1089.1V1083.6M638.5 637.5V643.0M96.5 637.5H102.0M638.5 637.5H633.0M96.5 682.7H102.0M638.5 682.7H633.0M96.5 727.8H102.0M638.5 727.8H633.0M96.5 773.0H102.0M638.5 773.0H633.0M96.5 818.1H102.0M638.5 818.1H633.0M96.5 863.3H102.0M638.5 863.3H633.0M96.5 908.5H102.0M638.5 908.5H633.0M96.5 953.6H102.0M638.5 953.6H633.0M96.5 998.8H102.0M638.5 998.8H633.0M96.5 1043.9H102.0M638.5 1043.9H633.0M96.5 1089.1H102.0M638.5 1089.1H633.0"/>
<rect x="96.5" y="637.5" width="542.0" height="451.6" class="box"/>
<path fill="#000" stroke="#000" stroke-width="0.6" stroke-linejoin="round" d="M805.5 846L808 844.5L815.5 844.5L815.5 888.5L812 890L805.5 889Z"/>
<circle cx="808.5" cy="851" r="1.8" fill="#fff"/>
<circle cx="810.5" cy="866" r="1.6" fill="#fff"/>
<path class="dt" d="M908.9 678.2a2.0 2.0 0 1 0 4 0a2.0 2.0 0 1 0 -4 0M905.3 685.5a2.0 2.0 0 1 0 4 0a2.0 2.0 0 1 0 -4 0M902.5 692.7a2.0 2.0 0 1 0 4 0a2.0 2.0 0 1 0 -4 0M899.3 699.6a2.0 2.0 0 1 0 4 0a2.0 2.0 0 1 0 -4 0M896.2 706.9a2.0 2.0 0 1 0 4 0a2.0 2.0 0 1 0 -4 0M893.1 714.2a2.0 2.0 0 1 0 4 0a2.0 2.0 0 1 0 -4 0M890.2 720.9a2.0 2.0 0 1 0 4 0a2.0 2.0 0 1 0 -4 0M887.1 727.8a2.0 2.0 0 1 0 4 0a2.0 2.0 0 1 0 -4 0M884 734.9a2.0 2.0 0 1 0 4 0a2.0 2.0 0 1 0 -4 0M881.1 742.7a2.0 2.0 0 1 0 4 0a2.0 2.0 0 1 0 -4 0M878 750.4a2.0 2.0 0 1 0 4 0a2.0 2.0 0 1 0 -4 0M875.3 759.1a2.0 2.0 0 1 0 4 0a2.0 2.0 0 1 0 -4 0M872.2 767.3a2.0 2.0 0 1 0 4 0a2.0 2.0 0 1 0 -4 0M868.9 775.8a2.0 2.0 0 1 0 4 0a2.0 2.0 0 1 0 -4 0M866.2 784.5a2.0 2.0 0 1 0 4 0a2.0 2.0 0 1 0 -4 0M866.2 787.3a2.0 2.0 0 1 0 4 0a2.0 2.0 0 1 0 -4 0M863.5 794.5a2.0 2.0 0 1 0 4 0a2.0 2.0 0 1 0 -4 0M863.5 798.2a2.0 2.0 0 1 0 4 0a2.0 2.0 0 1 0 -4 0M860.2 805.5a2.0 2.0 0 1 0 4 0a2.0 2.0 0 1 0 -4 0M860.2 810a2.0 2.0 0 1 0 4 0a2.0 2.0 0 1 0 -4 0M857.1 818.2a2.0 2.0 0 1 0 4 0a2.0 2.0 0 1 0 -4 0M857.1 823.6a2.0 2.0 0 1 0 4 0a2.0 2.0 0 1 0 -4 0M854 836.4a2.0 2.0 0 1 0 4 0a2.0 2.0 0 1 0 -4 0M854 841.8a2.0 2.0 0 1 0 4 0a2.0 2.0 0 1 0 -4 0M908.9 1051.4a2.0 2.0 0 1 0 4 0a2.0 2.0 0 1 0 -4 0M905.3 1044.1a2.0 2.0 0 1 0 4 0a2.0 2.0 0 1 0 -4 0M902.5 1036.9a2.0 2.0 0 1 0 4 0a2.0 2.0 0 1 0 -4 0M899.3 1030a2.0 2.0 0 1 0 4 0a2.0 2.0 0 1 0 -4 0M896.2 1022.7a2.0 2.0 0 1 0 4 0a2.0 2.0 0 1 0 -4 0M893.1 1015.4a2.0 2.0 0 1 0 4 0a2.0 2.0 0 1 0 -4 0M890.2 1008.7a2.0 2.0 0 1 0 4 0a2.0 2.0 0 1 0 -4 0M887.1 1001.8a2.0 2.0 0 1 0 4 0a2.0 2.0 0 1 0 -4 0M884 994.7a2.0 2.0 0 1 0 4 0a2.0 2.0 0 1 0 -4 0M881.1 986.9a2.0 2.0 0 1 0 4 0a2.0 2.0 0 1 0 -4 0M878 979.2a2.0 2.0 0 1 0 4 0a2.0 2.0 0 1 0 -4 0M875.3 970.5a2.0 2.0 0 1 0 4 0a2.0 2.0 0 1 0 -4 0M872.2 962.3a2.0 2.0 0 1 0 4 0a2.0 2.0 0 1 0 -4 0M868.9 953.8a2.0 2.0 0 1 0 4 0a2.0 2.0 0 1 0 -4 0M866.2 945.1a2.0 2.0 0 1 0 4 0a2.0 2.0 0 1 0 -4 0M866.2 942.3a2.0 2.0 0 1 0 4 0a2.0 2.0 0 1 0 -4 0M863.5 935.1a2.0 2.0 0 1 0 4 0a2.0 2.0 0 1 0 -4 0M863.5 931.4a2.0 2.0 0 1 0 4 0a2.0 2.0 0 1 0 -4 0M860.2 924.1a2.0 2.0 0 1 0 4 0a2.0 2.0 0 1 0 -4 0M860.2 919.6a2.0 2.0 0 1 0 4 0a2.0 2.0 0 1 0 -4 0M857.1 911.4a2.0 2.0 0 1 0 4 0a2.0 2.0 0 1 0 -4 0M857.1 906a2.0 2.0 0 1 0 4 0a2.0 2.0 0 1 0 -4 0M854 893.2a2.0 2.0 0 1 0 4 0a2.0 2.0 0 1 0 -4 0M854 887.8a2.0 2.0 0 1 0 4 0a2.0 2.0 0 1 0 -4 0M841.3 758a2.0 2.0 0 1 0 4 0a2.0 2.0 0 1 0 -4 0M805.3 773.2a2.0 2.0 0 1 0 4 0a2.0 2.0 0 1 0 -4 0M808.1 775.5a2.0 2.0 0 1 0 4 0a2.0 2.0 0 1 0 -4 0M814.3 773.8a2.0 2.0 0 1 0 4 0a2.0 2.0 0 1 0 -4 0M820.5 773.5a2.0 2.0 0 1 0 4 0a2.0 2.0 0 1 0 -4 0M826.7 774.9a2.0 2.0 0 1 0 4 0a2.0 2.0 0 1 0 -4 0M838.5 773.5a2.0 2.0 0 1 0 4 0a2.0 2.0 0 1 0 -4 0M835.7 790.1a2.0 2.0 0 1 0 4 0a2.0 2.0 0 1 0 -4 0M823.7 800.8a2.0 2.0 0 1 0 4 0a2.0 2.0 0 1 0 -4 0M826.7 809.8a2.0 2.0 0 1 0 4 0a2.0 2.0 0 1 0 -4 0M832.9 810.9a2.0 2.0 0 1 0 4 0a2.0 2.0 0 1 0 -4 0M826.7 816.3a2.0 2.0 0 1 0 4 0a2.0 2.0 0 1 0 -4 0M808.1 822.2a2.0 2.0 0 1 0 4 0a2.0 2.0 0 1 0 -4 0M810.9 821.1a2.0 2.0 0 1 0 4 0a2.0 2.0 0 1 0 -4 0M812.6 826.1a2.0 2.0 0 1 0 4 0a2.0 2.0 0 1 0 -4 0M820.5 821.1a2.0 2.0 0 1 0 4 0a2.0 2.0 0 1 0 -4 0M823.9 823.3a2.0 2.0 0 1 0 4 0a2.0 2.0 0 1 0 -4 0M823.7 828.9a2.0 2.0 0 1 0 4 0a2.0 2.0 0 1 0 -4 0M832.9 823.9a2.0 2.0 0 1 0 4 0a2.0 2.0 0 1 0 -4 0M808.1 835.1a2.0 2.0 0 1 0 4 0a2.0 2.0 0 1 0 -4 0M811.5 836.8a2.0 2.0 0 1 0 4 0a2.0 2.0 0 1 0 -4 0M816 836.3a2.0 2.0 0 1 0 4 0a2.0 2.0 0 1 0 -4 0M818.8 836.3a2.0 2.0 0 1 0 4 0a2.0 2.0 0 1 0 -4 0M808.7 841.3a2.0 2.0 0 1 0 4 0a2.0 2.0 0 1 0 -4 0M817.7 843.6a2.0 2.0 0 1 0 4 0a2.0 2.0 0 1 0 -4 0M829.5 864.4a2.0 2.0 0 1 0 4 0a2.0 2.0 0 1 0 -4 0M817.7 883a2.0 2.0 0 1 0 4 0a2.0 2.0 0 1 0 -4 0M817.7 886.5a2.0 2.0 0 1 0 4 0a2.0 2.0 0 1 0 -4 0M817.7 889.3a2.0 2.0 0 1 0 4 0a2.0 2.0 0 1 0 -4 0M814.9 890.4a2.0 2.0 0 1 0 4 0a2.0 2.0 0 1 0 -4 0M805.9 893.8a2.0 2.0 0 1 0 4 0a2.0 2.0 0 1 0 -4 0M811.5 897.1a2.0 2.0 0 1 0 4 0a2.0 2.0 0 1 0 -4 0M814.3 897.1a2.0 2.0 0 1 0 4 0a2.0 2.0 0 1 0 -4 0M808.1 907.1a2.0 2.0 0 1 0 4 0a2.0 2.0 0 1 0 -4 0M823.9 900.5a2.0 2.0 0 1 0 4 0a2.0 2.0 0 1 0 -4 0M820.5 903.9a2.0 2.0 0 1 0 4 0a2.0 2.0 0 1 0 -4 0M823.9 906.2a2.0 2.0 0 1 0 4 0a2.0 2.0 0 1 0 -4 0M817.1 909.5a2.0 2.0 0 1 0 4 0a2.0 2.0 0 1 0 -4 0M832.3 902.8a2.0 2.0 0 1 0 4 0a2.0 2.0 0 1 0 -4 0M814.3 914.6a2.0 2.0 0 1 0 4 0a2.0 2.0 0 1 0 -4 0M820.5 916.9a2.0 2.0 0 1 0 4 0a2.0 2.0 0 1 0 -4 0M826.7 912.9a2.0 2.0 0 1 0 4 0a2.0 2.0 0 1 0 -4 0M826.7 919.1a2.0 2.0 0 1 0 4 0a2.0 2.0 0 1 0 -4 0M835.7 916.1a2.0 2.0 0 1 0 4 0a2.0 2.0 0 1 0 -4 0M823.7 928.3a2.0 2.0 0 1 0 4 0a2.0 2.0 0 1 0 -4 0M838.5 925.6a2.0 2.0 0 1 0 4 0a2.0 2.0 0 1 0 -4 0M841.7 935.2a2.0 2.0 0 1 0 4 0a2.0 2.0 0 1 0 -4 0M811.5 943.9a2.0 2.0 0 1 0 4 0a2.0 2.0 0 1 0 -4 0M808.1 954.3a2.0 2.0 0 1 0 4 0a2.0 2.0 0 1 0 -4 0M826.7 955.1a2.0 2.0 0 1 0 4 0a2.0 2.0 0 1 0 -4 0M815 847a2.0 2.0 0 1 0 4 0a2.0 2.0 0 1 0 -4 0M814.5 860a2.0 2.0 0 1 0 4 0a2.0 2.0 0 1 0 -4 0M814.8 872a2.0 2.0 0 1 0 4 0a2.0 2.0 0 1 0 -4 0"/>
<path fill="#000" stroke="#000" stroke-width="0.6" stroke-linejoin="round" d="M1049 835.3L1049 820.6L1051.9 819.1L1051.9 801.5L1054.9 797.1L1054.9 782.4L1057.8 780.1L1057.8 769.1L1060.7 767.6L1060.7 755.9L1064.4 754.4L1064.4 744.1L1067.4 742.6L1067.4 734.6L1070.3 733.1L1070.3 725L1072.9 716.2L1075.4 716.2L1075.4 761.8L1073.5 761.8L1073.5 735.3L1071 751.5L1070.3 764.7L1069.6 773.5L1065.9 782.4L1063.7 789.7L1061.5 797.1L1058.5 802.9L1054.9 811.8L1053.4 822.1L1051.9 835.3Z"/>
<path fill="#000" stroke="#000" stroke-width="0.6" stroke-linejoin="round" d="M1049 893.1L1051.9 893.1L1051.9 910L1054.1 910.7L1057.1 920.3L1057.1 933.5L1061.5 937.9L1062.9 940.1L1063.7 951.2L1066.6 954.1L1066.6 960L1072.5 961.5L1073.2 971.8L1075.4 973.2L1075.4 992.4L1074.7 1013.7L1072.5 1013.7L1071.8 999.7L1070.3 998.2L1067.4 993.8L1066.6 987.9L1063.7 983.5L1061.5 973.2L1058.5 961.5L1057.8 955.6L1054.9 946.8L1054.1 935L1051.9 930.6L1051.2 921.8L1049 910Z"/>
<circle cx="1066" cy="770" r="1.0" fill="#fff"/>
<circle cx="1062" cy="781" r="1.0" fill="#fff"/>
<circle cx="1068.5" cy="758" r="1.0" fill="#fff"/>
<circle cx="1064.5" cy="790" r="1.0" fill="#fff"/>
<circle cx="1058.5" cy="797" r="1.0" fill="#fff"/>
<circle cx="1056.5" cy="808" r="1.0" fill="#fff"/>
<circle cx="1060.5" cy="772" r="1.0" fill="#fff"/>
<circle cx="1070.5" cy="745" r="1.0" fill="#fff"/>
<circle cx="1060" cy="950" r="1.0" fill="#fff"/>
<circle cx="1066" cy="965" r="1.0" fill="#fff"/>
<circle cx="1070" cy="980" r="1.0" fill="#fff"/>
<circle cx="1069" cy="991" r="1.0" fill="#fff"/>
<circle cx="1063" cy="972" r="1.0" fill="#fff"/>
<circle cx="1056" cy="940" r="1.0" fill="#fff"/>
<circle cx="1072" cy="1001" r="1.0" fill="#fff"/>
<circle cx="1064.5" cy="957" r="1.0" fill="#fff"/>
<path d="M803 864.5H813.5" stroke="#000" stroke-width="2.4" fill="none" stroke-linecap="round"/>
<path d="M845 864.5H854" stroke="#000" stroke-width="2.6" fill="none" stroke-linecap="round"/>
<path d="M912.7 864.7H1043.5" stroke="#000" stroke-width="2.8" fill="none" stroke-linecap="round"/>
<path d="M1077.5 864.7H1185.3" stroke="#000" stroke-width="2.8" fill="none" stroke-linecap="round"/>
<path d="M1334.3 865H1349.9" stroke="#000" stroke-width="2.8" fill="none" stroke-linecap="round"/>
<path d="M1046.3 857.5V861.5M1046.3 867.5V871.5M1077.2 856.5V861.5M1077.2 868V873.5" stroke="#000" stroke-width="3.2" stroke-linecap="round" fill="none"/>
<path d="M1185.3 864.5L1185.4 864.3L1185.7 864.0L1186.1 863.5L1186.5 862.9L1187.1 862.3L1187.6 861.6L1188.3 861.0L1189.0 860.3L1189.8 859.7L1190.6 859.1L1191.5 858.5L1192.4 857.9L1193.4 857.3L1194.4 856.7L1195.5 856.1L1196.6 855.5L1197.7 854.9L1198.9 854.3L1200.2 853.8L1201.4 853.2L1202.7 852.6L1204.1 852.0L1205.5 851.5L1206.9 851.1L1208.3 850.6L1209.8 850.1L1211.4 849.6L1212.9 849.1L1214.5 848.7L1216.2 848.2L1217.8 847.7L1219.5 847.2L1221.2 846.7L1223.0 846.2L1224.8 845.8L1226.6 845.3L1228.5 844.8L1230.3 844.4L1232.2 843.9L1234.2 843.5L1236.2 843.1L1238.2 842.7L1240.2 842.2L1242.2 841.8L1244.3 841.5L1246.4 841.1L1248.6 840.7L1250.7 840.4L1252.9 840.0L1255.2 839.7L1257.4 839.4L1259.7 839.1L1262.0 838.7L1264.3 838.4L1266.7 838.1L1269.1 837.8L1271.5 837.6L1273.9 837.3L1276.3 837.0L1278.8 836.7L1281.3 836.5L1283.9 836.3L1286.4 836.0L1289.0 835.8L1291.6 835.6L1294.2 835.4L1296.9 835.2L1299.6 835.0L1302.3 834.8L1305.0 834.7L1307.7 834.5L1310.5 834.4L1313.3 834.2L1316.1 834.1L1319.0 833.9L1321.8 833.8L1324.7 833.7L1327.6 833.5L1330.5 833.4L1333.5 833.2" stroke="#000" stroke-width="3.2" fill="none" stroke-linejoin="round"/>
<path d="M1185.3 864.5L1185.4 864.7L1185.7 865.0L1186.1 865.5L1186.5 866.2L1187.1 866.9L1187.6 867.6L1188.3 868.2L1189.0 868.9L1189.8 869.5L1190.6 870.2L1191.5 870.8L1192.4 871.5L1193.4 872.1L1194.4 872.7L1195.5 873.4L1196.6 874.0L1197.7 874.6L1198.9 875.2L1200.2 875.8L1201.4 876.4L1202.7 877.0L1204.1 877.7L1205.5 878.2L1206.9 878.6L1208.3 879.1L1209.8 879.6L1211.4 880.1L1212.9 880.6L1214.5 881.1L1216.2 881.6L1217.8 882.0L1219.5 882.5L1221.2 883.0L1223.0 883.5L1224.8 883.9L1226.6 884.4L1228.5 884.8L1230.3 885.3L1232.2 885.7L1234.2 886.2L1236.2 886.6L1238.2 887.0L1240.2 887.4L1242.2 887.8L1244.3 888.1L1246.4 888.5L1248.6 888.9L1250.7 889.2L1252.9 889.5L1255.2 889.9L1257.4 890.2L1259.7 890.5L1262.0 890.8L1264.3 891.1L1266.7 891.4L1269.1 891.7L1271.5 892.0L1273.9 892.3L1276.3 892.6L1278.8 892.8L1281.3 893.1L1283.9 893.3L1286.4 893.6L1289.0 893.8L1291.6 894.0L1294.2 894.2L1296.9 894.4L1299.6 894.6L1302.3 894.8L1305.0 894.9L1307.7 895.1L1310.5 895.3L1313.3 895.4L1316.1 895.6L1319.0 895.7L1321.8 895.9L1324.7 896.0L1327.6 896.2L1330.5 896.3L1333.5 896.5" stroke="#000" stroke-width="3.2" fill="none" stroke-linejoin="round"/>
<path d="M1193.3 821.1L1325.5 819.6" stroke="#333" stroke-width="1.3" fill="none"/>
<path fill="#111" d="M1185.3 821.1L1202.3 814.2L1195.8 821.1L1202.3 828Z"/>
<path fill="#111" d="M1333.5 819.6L1316.5 812.7L1323 819.6L1316.5 826.5Z"/>
<text x="1231.8" y="808.2" class="ann" font-size="20" textLength="57" lengthAdjust="spacingAndGlyphs">63~87</text>
<rect x="818.2" y="1049.7" width="13.2" height="2.6" fill="#111"/>
<rect x="818.2" y="1070.4" width="13.2" height="2.6" fill="#111"/>
<rect x="823.6" y="1049.7" width="2.4" height="23.3" fill="#2a2a2a"/>
<rect x="871.3" y="1049.7" width="23.3" height="2.6" fill="#111"/>
<rect x="871.3" y="1070.4" width="23.3" height="2.6" fill="#111"/>
<rect x="875.8" y="1049.7" width="2.4" height="23.3" fill="#2a2a2a"/>
<rect x="888.1" y="1049.7" width="2.4" height="23.3" fill="#2a2a2a"/>
<rect x="1247" y="1051" width="25.1" height="2.7" fill="#111"/>
<rect x="1247" y="1072.1" width="25.1" height="2.7" fill="#111"/>
<rect x="1249.7" y="1051" width="2.4" height="23.8" fill="#2a2a2a"/>
<rect x="1258.5" y="1051" width="2.4" height="23.8" fill="#2a2a2a"/>
<rect x="1267.2" y="1051" width="2.4" height="23.8" fill="#2a2a2a"/>
<text x="1049.4" y="1074.8" class="iv" font-size="36.3" textLength="30.1" lengthAdjust="spacingAndGlyphs">IV</text>
<text x="961.3" y="1147.5" class="lbs" font-size="27.4" textLength="233" lengthAdjust="spacingAndGlyphs">Pulsating frequency</text>
<text transform="translate(737.5 1007) rotate(-90)" class="lbs" font-size="27.4" textLength="286" lengthAdjust="spacingAndGlyphs">Displacement amplitude</text>
<text x="718.3" y="615.3" class="plab">D</text>
<text x="805.3" y="1117.6" class="xt">0</text>
<text x="865.8" y="1117.6" class="xt">10</text>
<text x="926.3" y="1117.6" class="xt">20</text>
<text x="986.8" y="1117.6" class="xt">30</text>
<text x="1047.3" y="1117.6" class="xt">40</text>
<text x="1107.9" y="1117.6" class="xt">50</text>
<text x="1168.4" y="1117.6" class="xt">60</text>
<text x="1228.9" y="1117.6" class="xt">70</text>
<text x="1289.4" y="1117.6" class="xt">80</text>
<text x="1349.9" y="1117.6" class="xt">90</text>
<text x="797.3" y="645.3" class="yt">0.025</text>
<text x="797.3" y="690.8" class="yt">0.02</text>
<text x="797.3" y="736.2" class="yt">0.015</text>
<text x="797.3" y="781.7" class="yt">0.01</text>
<text x="797.3" y="827.1" class="yt">0.005</text>
<text x="797.3" y="872.6" class="yt">0</text>
<text x="797.3" y="918.1" class="yt">-0.005</text>
<text x="797.3" y="963.5" class="yt">-0.01</text>
<text x="797.3" y="1009.0" class="yt">-0.015</text>
<text x="797.3" y="1054.4" class="yt">-0.02</text>
<text x="797.3" y="1099.9" class="yt">-0.025</text>
<path class="ax" d="M805.3 1092.1V1086.6M805.3 637.5V643.0M865.8 1092.1V1086.6M865.8 637.5V643.0M926.3 1092.1V1086.6M926.3 637.5V643.0M986.8 1092.1V1086.6M986.8 637.5V643.0M1047.3 1092.1V1086.6M1047.3 637.5V643.0M1107.9 1092.1V1086.6M1107.9 637.5V643.0M1168.4 1092.1V1086.6M1168.4 637.5V643.0M1228.9 1092.1V1086.6M1228.9 637.5V643.0M1289.4 1092.1V1086.6M1289.4 637.5V643.0M1349.9 1092.1V1086.6M1349.9 637.5V643.0M805.3 637.5H810.8M1349.9 637.5H1344.4M805.3 683.0H810.8M1349.9 683.0H1344.4M805.3 728.4H810.8M1349.9 728.4H1344.4M805.3 773.9H810.8M1349.9 773.9H1344.4M805.3 819.3H810.8M1349.9 819.3H1344.4M805.3 864.8H810.8M1349.9 864.8H1344.4M805.3 910.3H810.8M1349.9 910.3H1344.4M805.3 955.7H810.8M1349.9 955.7H1344.4M805.3 1001.2H810.8M1349.9 1001.2H1344.4M805.3 1046.6H810.8M1349.9 1046.6H1344.4M805.3 1092.1H810.8M1349.9 1092.1H1344.4"/>
<rect x="805.3" y="637.5" width="544.6" height="454.6" class="box"/>
<path d="M153.7 47.3L152.8 493.5" stroke="#ec2d24" stroke-width="4.0" stroke-dasharray="11.3 4.25" stroke-dashoffset="0" fill="none"/>
<path d="M184.7 47.3L183.7 493.5" stroke="#ec2d24" stroke-width="4.0" stroke-dasharray="11.3 4.25" stroke-dashoffset="0" fill="none"/>
<path d="M309.2 47L308 493.5" stroke="#ec2d24" stroke-width="4.0" stroke-dasharray="11.3 4.25" stroke-dashoffset="0" fill="none"/>
<path d="M342.8 48.6L341.5 495" stroke="#ec2d24" stroke-width="4.0" stroke-dasharray="11.3 4.25" stroke-dashoffset="0" fill="none"/>
<path d="M451 43.1L449.6 490.6" stroke="#ec2d24" stroke-width="1.7" stroke-dasharray="12.4 8.3" stroke-dashoffset="0" fill="none"/>
<path d="M606.6 43.1L604.9 490.6" stroke="#ec2d24" stroke-width="1.7" stroke-dasharray="12.4 8.3" stroke-dashoffset="0" fill="none"/>
<path d="M862 51.4L864.4 489.4" stroke="#ec2d24" stroke-width="4.0" stroke-dasharray="11.3 4.25" stroke-dashoffset="7.2" fill="none"/>
<path d="M902.1 51.4L904.6 489.4" stroke="#ec2d24" stroke-width="4.0" stroke-dasharray="11.3 4.25" stroke-dashoffset="7.2" fill="none"/>
<path d="M1028.9 56.4L1031.3 494" stroke="#ec2d24" stroke-width="4.0" stroke-dasharray="11.3 4.25" stroke-dashoffset="7.2" fill="none"/>
<path d="M1069 55.4L1071.7 494" stroke="#ec2d24" stroke-width="4.0" stroke-dasharray="11.3 4.25" stroke-dashoffset="7.9" fill="none"/>
<path d="M1171.9 47.2L1174 490.6" stroke="#ec2d24" stroke-width="1.7" stroke-dasharray="12.4 8.3" stroke-dashoffset="0" fill="none"/>
<path d="M1324.5 47.2L1326.5 490.6" stroke="#ec2d24" stroke-width="1.7" stroke-dasharray="12.4 8.3" stroke-dashoffset="0" fill="none"/>
<path d="M129.3 643.6L130.6 1084" stroke="#ec2d24" stroke-width="4.0" stroke-dasharray="11.3 4.25" stroke-dashoffset="4.0" fill="none"/>
<path d="M199.4 643.6L200.6 1084" stroke="#ec2d24" stroke-width="4.0" stroke-dasharray="11.3 4.25" stroke-dashoffset="4.0" fill="none"/>
<path d="M329.6 643.6L332.4 1084" stroke="#ec2d24" stroke-width="4.0" stroke-dasharray="11.3 4.25" stroke-dashoffset="4.0" fill="none"/>
<path d="M363 643.6L365.8 1084" stroke="#ec2d24" stroke-width="4.0" stroke-dasharray="11.3 4.25" stroke-dashoffset="4.0" fill="none"/>
<path d="M467 643.1L469.2 1088" stroke="#ec2d24" stroke-width="1.7" stroke-dasharray="12.4 8.3" stroke-dashoffset="0.8" fill="none"/>
<path d="M618.4 640L620 1088" stroke="#ec2d24" stroke-width="1.7" stroke-dasharray="12.4 8.3" stroke-dashoffset="0" fill="none"/>
<path d="M846.4 648L849 1086.2" stroke="#ec2d24" stroke-width="4.0" stroke-dasharray="11.3 4.25" stroke-dashoffset="7.6" fill="none"/>
<path d="M913.4 648L916.1 1086.2" stroke="#ec2d24" stroke-width="4.0" stroke-dasharray="11.3 4.25" stroke-dashoffset="7.6" fill="none"/>
<path d="M1043.8 648L1045.6 1086.2" stroke="#ec2d24" stroke-width="4.0" stroke-dasharray="11.3 4.25" stroke-dashoffset="7.6" fill="none"/>
<path d="M1079.9 648L1081.9 1086.2" stroke="#ec2d24" stroke-width="4.0" stroke-dasharray="11.3 4.25" stroke-dashoffset="7.6" fill="none"/>
<path d="M1183.6 640.9L1186.5 1090" stroke="#ec2d24" stroke-width="1.7" stroke-dasharray="12.4 8.3" stroke-dashoffset="0" fill="none"/>
<path d="M1333.1 640.2L1335 1090" stroke="#ec2d24" stroke-width="1.7" stroke-dasharray="12.4 8.3" stroke-dashoffset="0" fill="none"/>
</svg>
</body></html>
